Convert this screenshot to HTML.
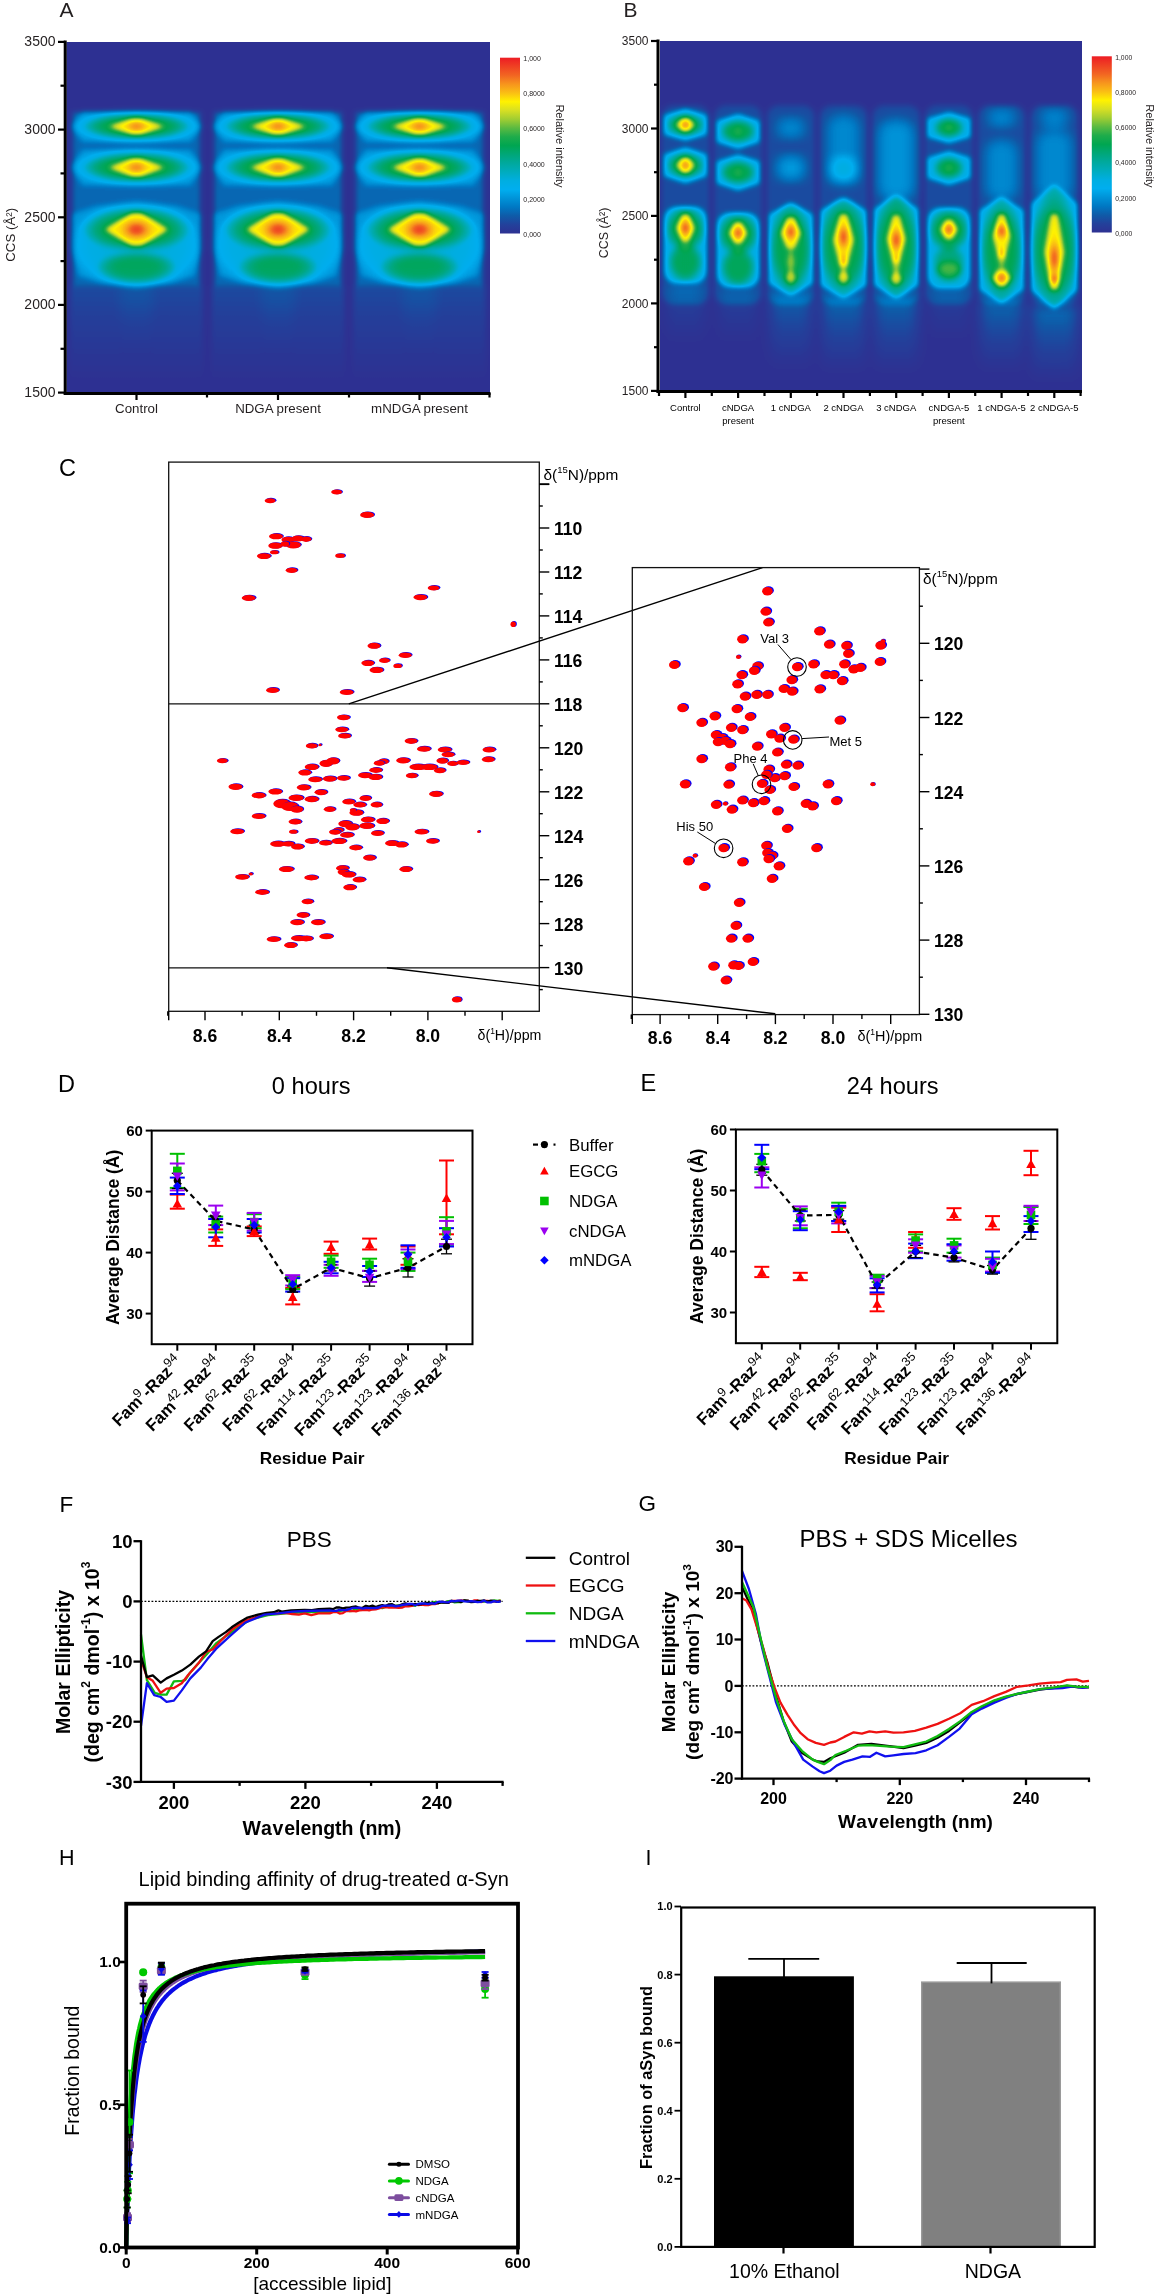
<!DOCTYPE html>
<html><head><meta charset="utf-8"><title>Figure</title>
<style>html,body{margin:0;padding:0;background:#fff;width:1155px;height:2296px;overflow:hidden}svg{display:block;font-family:"Liberation Sans",sans-serif;will-change:transform}</style>
</head><body>
<svg width="1155" height="2296" viewBox="0 0 1155 2296">
<defs><filter id="cmap" x="0" y="0" width="1" height="1" color-interpolation-filters="sRGB"><feComponentTransfer><feFuncR type="table" tableValues="0.180 0.137 0.059 0.000 0.000 0.000 0.000 0.000 0.000 0.000 0.000 0.118 0.353 0.627 0.843 1.000 0.980 0.969 0.949 0.937 0.929"/><feFuncG type="table" tableValues="0.192 0.255 0.357 0.471 0.576 0.682 0.682 0.675 0.663 0.655 0.651 0.675 0.729 0.804 0.875 0.949 0.745 0.580 0.396 0.255 0.110"/><feFuncB type="table" tableValues="0.573 0.608 0.659 0.765 0.847 0.937 0.882 0.745 0.616 0.471 0.318 0.294 0.255 0.196 0.137 0.000 0.078 0.114 0.133 0.137 0.141"/></feComponentTransfer></filter><radialGradient id="gp"><stop offset="0.00" stop-color="#fff" stop-opacity="1.000"/><stop offset="0.10" stop-color="#fff" stop-opacity="0.956"/><stop offset="0.20" stop-color="#fff" stop-opacity="0.835"/><stop offset="0.30" stop-color="#fff" stop-opacity="0.667"/><stop offset="0.40" stop-color="#fff" stop-opacity="0.487"/><stop offset="0.50" stop-color="#fff" stop-opacity="0.325"/><stop offset="0.60" stop-color="#fff" stop-opacity="0.198"/><stop offset="0.70" stop-color="#fff" stop-opacity="0.110"/><stop offset="0.80" stop-color="#fff" stop-opacity="0.056"/><stop offset="0.90" stop-color="#fff" stop-opacity="0.026"/><stop offset="1.00" stop-color="#fff" stop-opacity="0.000"/></radialGradient><radialGradient id="gb"><stop offset="0.00" stop-color="#fff" stop-opacity="1.000"/><stop offset="0.50" stop-color="#fff" stop-opacity="0.970"/><stop offset="0.70" stop-color="#fff" stop-opacity="0.880"/><stop offset="0.80" stop-color="#fff" stop-opacity="0.720"/><stop offset="0.90" stop-color="#fff" stop-opacity="0.400"/><stop offset="0.96" stop-color="#fff" stop-opacity="0.120"/><stop offset="1.00" stop-color="#fff" stop-opacity="0.000"/></radialGradient><radialGradient id="gc"><stop offset="0.00" stop-color="#fff" stop-opacity="1.000"/><stop offset="0.20" stop-color="#fff" stop-opacity="0.930"/><stop offset="0.47" stop-color="#fff" stop-opacity="0.750"/><stop offset="0.60" stop-color="#fff" stop-opacity="0.600"/><stop offset="0.74" stop-color="#fff" stop-opacity="0.333"/><stop offset="0.87" stop-color="#fff" stop-opacity="0.130"/><stop offset="1.00" stop-color="#fff" stop-opacity="0.000"/></radialGradient><radialGradient id="gg"><stop offset="0.00" stop-color="#fff" stop-opacity="1.000"/><stop offset="0.50" stop-color="#fff" stop-opacity="1.000"/><stop offset="0.70" stop-color="#fff" stop-opacity="0.800"/><stop offset="0.85" stop-color="#fff" stop-opacity="0.450"/><stop offset="1.00" stop-color="#fff" stop-opacity="0.000"/></radialGradient><filter id="bl2" x="-0.1" y="-0.1" width="1.2" height="1.2" color-interpolation-filters="sRGB"><feGaussianBlur stdDeviation="2.5"/></filter><filter id="bl5" x="-0.2" y="-0.2" width="1.4" height="1.4" color-interpolation-filters="sRGB"><feGaussianBlur stdDeviation="6"/></filter><linearGradient id="cbar" x1="0" y1="0" x2="0" y2="1"><stop offset="0.00" stop-color="rgb(237,28,36)"/><stop offset="0.05" stop-color="rgb(239,65,35)"/><stop offset="0.10" stop-color="rgb(242,101,34)"/><stop offset="0.15" stop-color="rgb(247,148,29)"/><stop offset="0.20" stop-color="rgb(250,190,20)"/><stop offset="0.25" stop-color="rgb(255,242,0)"/><stop offset="0.30" stop-color="rgb(215,223,35)"/><stop offset="0.35" stop-color="rgb(160,205,50)"/><stop offset="0.40" stop-color="rgb(90,186,65)"/><stop offset="0.45" stop-color="rgb(30,172,75)"/><stop offset="0.50" stop-color="rgb(0,166,81)"/><stop offset="0.55" stop-color="rgb(0,167,120)"/><stop offset="0.60" stop-color="rgb(0,169,157)"/><stop offset="0.65" stop-color="rgb(0,172,190)"/><stop offset="0.70" stop-color="rgb(0,174,225)"/><stop offset="0.75" stop-color="rgb(0,174,239)"/><stop offset="0.80" stop-color="rgb(0,147,216)"/><stop offset="0.85" stop-color="rgb(0,120,195)"/><stop offset="0.90" stop-color="rgb(15,91,168)"/><stop offset="0.95" stop-color="rgb(35,65,155)"/><stop offset="1.00" stop-color="rgb(46,49,146)"/></linearGradient><linearGradient id="vf" x1="0" y1="0" x2="0" y2="1"><stop offset="0" stop-color="#fff" stop-opacity="1"/><stop offset="0.4" stop-color="#fff" stop-opacity="0.55"/><stop offset="1" stop-color="#fff" stop-opacity="0"/></linearGradient><linearGradient id="hz" x1="0" y1="0" x2="0" y2="1"><stop offset="0" stop-color="#fff" stop-opacity="0"/><stop offset="0.5" stop-color="#fff" stop-opacity="1"/><stop offset="1" stop-color="#fff" stop-opacity="0"/></linearGradient></defs>
<g stroke="none">
</g>
<g filter="url(#cmap)"><rect x="66.5" y="42" width="423.5" height="350.6" fill="#000"/><g filter="url(#bl2)"><polygon points="72.5,112 200.5,112 200.5,286 72.5,286" fill="#fff" opacity="0.12"/><rect x="70.5" y="286" width="132" height="95" fill="url(#vf)" opacity="0.07"/><g filter="url(#bl5)"><rect x="118.5" y="285" width="36" height="70" fill="url(#vf)" opacity="0.035"/></g><polygon points="70.5,126.4 82.5,110.9 190.5,110.9 202.5,126.4 190.5,141.9 82.5,141.9" fill="#fff" opacity="0.10"/><ellipse cx="136.5" cy="126.4" rx="68" ry="18.5" fill="url(#gg)" opacity="0.12"/><ellipse cx="136.5" cy="126.4" rx="56" ry="13.5" fill="url(#gg)" opacity="0.30"/><polygon points="108.5,126.4 132.3,117.9 140.7,117.9 164.5,126.4 140.7,134.9 132.3,134.9" fill="#fff" opacity="0.50"/><ellipse cx="136.5" cy="126.4" rx="16" ry="6.5" fill="url(#gp)" opacity="0.62"/><polygon points="70.5,167.4 82.5,149.4 190.5,149.4 202.5,167.4 190.5,185.4 82.5,185.4" fill="#fff" opacity="0.10"/><ellipse cx="136.5" cy="167.4" rx="68" ry="21" fill="url(#gg)" opacity="0.12"/><ellipse cx="136.5" cy="167.4" rx="56" ry="15.5" fill="url(#gg)" opacity="0.30"/><polygon points="108.5,167.4 132.3,157.9 140.7,157.9 164.5,167.4 140.7,176.9 132.3,176.9" fill="#fff" opacity="0.50"/><ellipse cx="136.5" cy="167.4" rx="16" ry="7" fill="url(#gp)" opacity="0.62"/><polygon points="136.5,202 176.5,206 201.5,214 201.5,250 194.5,276 171.5,283 136.5,288 101.5,283 78.5,276 71.5,250 71.5,214 96.5,206" fill="#fff" opacity="0.10"/><ellipse cx="136.5" cy="245" rx="68" ry="46" fill="url(#gg)" opacity="0.12"/><ellipse cx="136.5" cy="229" rx="57" ry="23" fill="url(#gg)" opacity="0.30"/><ellipse cx="136.5" cy="268" rx="42" ry="17" fill="url(#gg)" opacity="0.26"/><polygon points="104.5,229.5 131.7,212.5 141.3,212.5 168.5,229.5 141.3,246.5 131.7,246.5" fill="#fff" opacity="0.50"/><ellipse cx="136.5" cy="229.5" rx="22" ry="14" fill="url(#gp)" opacity="0.90"/><polygon points="214,112 342,112 342,286 214,286" fill="#fff" opacity="0.12"/><rect x="212" y="286" width="132" height="95" fill="url(#vf)" opacity="0.07"/><g filter="url(#bl5)"><rect x="260" y="285" width="36" height="70" fill="url(#vf)" opacity="0.035"/></g><polygon points="212,126.4 224,110.9 332,110.9 344,126.4 332,141.9 224,141.9" fill="#fff" opacity="0.10"/><ellipse cx="278" cy="126.4" rx="68" ry="18.5" fill="url(#gg)" opacity="0.12"/><ellipse cx="278" cy="126.4" rx="56" ry="13.5" fill="url(#gg)" opacity="0.30"/><polygon points="250,126.4 273.8,117.9 282.2,117.9 306,126.4 282.2,134.9 273.8,134.9" fill="#fff" opacity="0.50"/><ellipse cx="278" cy="126.4" rx="16" ry="6.5" fill="url(#gp)" opacity="0.62"/><polygon points="212,167.4 224,149.4 332,149.4 344,167.4 332,185.4 224,185.4" fill="#fff" opacity="0.10"/><ellipse cx="278" cy="167.4" rx="68" ry="21" fill="url(#gg)" opacity="0.12"/><ellipse cx="278" cy="167.4" rx="56" ry="15.5" fill="url(#gg)" opacity="0.30"/><polygon points="250,167.4 273.8,157.9 282.2,157.9 306,167.4 282.2,176.9 273.8,176.9" fill="#fff" opacity="0.50"/><ellipse cx="278" cy="167.4" rx="16" ry="7" fill="url(#gp)" opacity="0.62"/><polygon points="278,202 318,206 343,214 343,250 336,276 313,283 278,288 243,283 220,276 213,250 213,214 238,206" fill="#fff" opacity="0.10"/><ellipse cx="278" cy="245" rx="68" ry="46" fill="url(#gg)" opacity="0.12"/><ellipse cx="278" cy="229" rx="57" ry="23" fill="url(#gg)" opacity="0.30"/><ellipse cx="278" cy="268" rx="42" ry="17" fill="url(#gg)" opacity="0.26"/><polygon points="246,229.5 273.2,212.5 282.8,212.5 310,229.5 282.8,246.5 273.2,246.5" fill="#fff" opacity="0.50"/><ellipse cx="278" cy="229.5" rx="22" ry="14" fill="url(#gp)" opacity="0.90"/><polygon points="355.5,112 483.5,112 483.5,286 355.5,286" fill="#fff" opacity="0.12"/><rect x="353.5" y="286" width="132" height="95" fill="url(#vf)" opacity="0.07"/><g filter="url(#bl5)"><rect x="401.5" y="285" width="36" height="70" fill="url(#vf)" opacity="0.035"/></g><polygon points="353.5,126.4 365.5,110.9 473.5,110.9 485.5,126.4 473.5,141.9 365.5,141.9" fill="#fff" opacity="0.10"/><ellipse cx="419.5" cy="126.4" rx="68" ry="18.5" fill="url(#gg)" opacity="0.12"/><ellipse cx="419.5" cy="126.4" rx="56" ry="13.5" fill="url(#gg)" opacity="0.30"/><polygon points="391.5,126.4 415.3,117.9 423.7,117.9 447.5,126.4 423.7,134.9 415.3,134.9" fill="#fff" opacity="0.50"/><ellipse cx="419.5" cy="126.4" rx="16" ry="6.5" fill="url(#gp)" opacity="0.62"/><polygon points="353.5,167.4 365.5,149.4 473.5,149.4 485.5,167.4 473.5,185.4 365.5,185.4" fill="#fff" opacity="0.10"/><ellipse cx="419.5" cy="167.4" rx="68" ry="21" fill="url(#gg)" opacity="0.12"/><ellipse cx="419.5" cy="167.4" rx="56" ry="15.5" fill="url(#gg)" opacity="0.30"/><polygon points="391.5,167.4 415.3,157.9 423.7,157.9 447.5,167.4 423.7,176.9 415.3,176.9" fill="#fff" opacity="0.50"/><ellipse cx="419.5" cy="167.4" rx="16" ry="7" fill="url(#gp)" opacity="0.62"/><polygon points="419.5,202 459.5,206 484.5,214 484.5,250 477.5,276 454.5,283 419.5,288 384.5,283 361.5,276 354.5,250 354.5,214 379.5,206" fill="#fff" opacity="0.10"/><ellipse cx="419.5" cy="245" rx="68" ry="46" fill="url(#gg)" opacity="0.12"/><ellipse cx="419.5" cy="229" rx="57" ry="23" fill="url(#gg)" opacity="0.30"/><ellipse cx="419.5" cy="268" rx="42" ry="17" fill="url(#gg)" opacity="0.26"/><polygon points="387.5,229.5 414.7,212.5 424.3,212.5 451.5,229.5 424.3,246.5 414.7,246.5" fill="#fff" opacity="0.50"/><ellipse cx="419.5" cy="229.5" rx="22" ry="14" fill="url(#gp)" opacity="0.90"/></g></g><line x1="65.2" y1="40.5" x2="65.2" y2="394.5" stroke-width="3" stroke="#000"/><line x1="63.7" y1="393.5" x2="490.5" y2="393.5" stroke-width="3" stroke="#000"/><line x1="58" y1="392.6" x2="65" y2="392.6" stroke-width="2.2" stroke="#000"/><text x="55.5" y="397.1" font-size="14" text-anchor="end" fill="#231f20">1500</text><line x1="60.5" y1="348.8" x2="65" y2="348.8" stroke-width="2.2" stroke="#000"/><line x1="58" y1="304.9" x2="65" y2="304.9" stroke-width="2.2" stroke="#000"/><text x="55.5" y="309.4" font-size="14" text-anchor="end" fill="#231f20">2000</text><line x1="60.5" y1="261.1" x2="65" y2="261.1" stroke-width="2.2" stroke="#000"/><line x1="58" y1="217.3" x2="65" y2="217.3" stroke-width="2.2" stroke="#000"/><text x="55.5" y="221.8" font-size="14" text-anchor="end" fill="#231f20">2500</text><line x1="60.5" y1="173.4" x2="65" y2="173.4" stroke-width="2.2" stroke="#000"/><line x1="58" y1="129.6" x2="65" y2="129.6" stroke-width="2.2" stroke="#000"/><text x="55.5" y="134.1" font-size="14" text-anchor="end" fill="#231f20">3000</text><line x1="60.5" y1="85.7" x2="65" y2="85.7" stroke-width="2.2" stroke="#000"/><line x1="58" y1="41.9" x2="65" y2="41.9" stroke-width="2.2" stroke="#000"/><text x="55.5" y="46.4" font-size="14" text-anchor="end" fill="#231f20">3500</text><line x1="136.5" y1="393" x2="136.5" y2="400" stroke-width="2.2" stroke="#000"/><line x1="278" y1="393" x2="278" y2="400" stroke-width="2.2" stroke="#000"/><line x1="419.5" y1="393" x2="419.5" y2="400" stroke-width="2.2" stroke="#000"/><line x1="207" y1="393" x2="207" y2="397.5" stroke-width="2.2" stroke="#000"/><line x1="349" y1="393" x2="349" y2="397.5" stroke-width="2.2" stroke="#000"/><line x1="489.5" y1="393" x2="489.5" y2="397.5" stroke-width="2.2" stroke="#000"/><text x="136.5" y="413.3" font-size="13.3" text-anchor="middle" fill="#231f20">Control</text><text x="278" y="413.3" font-size="13.3" text-anchor="middle" fill="#231f20">NDGA present</text><text x="419.5" y="413.3" font-size="13.3" text-anchor="middle" fill="#231f20">mNDGA present</text><text transform="translate(14.5,234.8) rotate(-90)" font-size="13.3" text-anchor="middle" fill="#231f20">CCS (Å²)</text><text x="59.5" y="17.2" font-size="21" fill="#231f20">A</text><rect x="500" y="57.7" width="20" height="175.8" fill="url(#cbar)"/><text x="523.3" y="61.1" font-size="7" fill="#231f20">1,000</text><text x="523.3" y="95.7" font-size="7" fill="#231f20">0,8000</text><text x="523.3" y="131.4" font-size="7" fill="#231f20">0,6000</text><text x="523.3" y="166.6" font-size="7" fill="#231f20">0,4000</text><text x="523.3" y="201.8" font-size="7" fill="#231f20">0,2000</text><text x="523.3" y="236.8" font-size="7" fill="#231f20">0,000</text><text transform="translate(556,146) rotate(90)" font-size="11" text-anchor="middle" fill="#231f20">Relative intensity</text><g filter="url(#cmap)"><rect x="660" y="41" width="422" height="349.9" fill="#000"/><g filter="url(#bl2)"><rect x="661.4" y="105" width="48" height="200" rx="12" fill="#fff" opacity="0.07"/><rect x="714.1" y="105" width="48" height="200" rx="12" fill="#fff" opacity="0.07"/><rect x="766.8" y="105" width="48" height="200" rx="12" fill="#fff" opacity="0.07"/><rect x="819.5" y="105" width="48" height="200" rx="12" fill="#fff" opacity="0.07"/><rect x="872.2" y="105" width="48" height="200" rx="12" fill="#fff" opacity="0.07"/><rect x="924.9" y="105" width="48" height="200" rx="12" fill="#fff" opacity="0.07"/><rect x="977.6" y="105" width="48" height="200" rx="12" fill="#fff" opacity="0.07"/><rect x="1030.3" y="105" width="48" height="200" rx="12" fill="#fff" opacity="0.07"/><polygon points="685.4,108.8 706.9,115.2 706.9,134.4 685.4,140.8 663.9,134.4 663.9,115.2" fill="#fff" opacity="0.24"/><ellipse cx="685.4" cy="124.8" rx="19.6" ry="11.8" fill="url(#gg)" opacity="0.30"/><polygon points="675.9,124.8 682.1,117.8 688.7,117.8 694.9,124.8 688.7,131.8 682.1,131.8" fill="#fff" opacity="0.50"/><ellipse cx="685.4" cy="124.8" rx="5" ry="7" fill="url(#gp)" opacity="0.80"/><polygon points="685.4,147.3 706.9,154.5 706.9,176.1 685.4,183.3 663.9,176.1 663.9,154.5" fill="#fff" opacity="0.24"/><ellipse cx="685.4" cy="165.3" rx="19.6" ry="13.5" fill="url(#gg)" opacity="0.30"/><polygon points="675.9,165.3 682.1,157.3 688.7,157.3 694.9,165.3 688.7,173.3 682.1,173.3" fill="#fff" opacity="0.50"/><ellipse cx="685.4" cy="165.3" rx="5" ry="7" fill="url(#gp)" opacity="0.80"/><rect x="664.4" y="207" width="42" height="76" rx="12" fill="#fff" opacity="0.24"/><ellipse cx="685.4" cy="229" rx="21" ry="23.4" fill="url(#gg)" opacity="0.30"/><ellipse cx="685.4" cy="262" rx="18.2" ry="20.8" fill="url(#gg)" opacity="0.28"/><polygon points="675.9,228 682.1,214 688.7,214 694.9,228 688.7,242 682.1,242" fill="#fff" opacity="0.50"/><ellipse cx="685.4" cy="228" rx="7" ry="13" fill="url(#gp)" opacity="0.92"/><g filter="url(#bl5)"><rect x="667.4" y="282" width="36" height="60" fill="url(#vf)" opacity="0.07"/></g><polygon points="738.1,113.9 759.6,120.9 759.6,141.9 738.1,148.9 716.6,141.9 716.6,120.9" fill="#fff" opacity="0.24"/><ellipse cx="738.1" cy="131.4" rx="18.2" ry="12.1" fill="url(#gg)" opacity="0.30"/><ellipse cx="738.1" cy="131.4" rx="3" ry="6" fill="url(#gp)" opacity="0.30"/><polygon points="738.1,154.4 759.6,161.6 759.6,183.2 738.1,190.4 716.6,183.2 716.6,161.6" fill="#fff" opacity="0.24"/><ellipse cx="738.1" cy="172.4" rx="18.2" ry="12.5" fill="url(#gg)" opacity="0.30"/><ellipse cx="738.1" cy="172.4" rx="3" ry="6" fill="url(#gp)" opacity="0.30"/><rect x="717.1" y="213" width="42" height="74" rx="12" fill="#fff" opacity="0.24"/><ellipse cx="738.1" cy="234" rx="21" ry="22.1" fill="url(#gg)" opacity="0.30"/><ellipse cx="738.1" cy="267" rx="18.2" ry="20.8" fill="url(#gg)" opacity="0.28"/><polygon points="728.6,233 734.8,222 741.4,222 747.6,233 741.4,244 734.8,244" fill="#fff" opacity="0.50"/><ellipse cx="738.1" cy="233" rx="7" ry="10" fill="url(#gp)" opacity="0.92"/><g filter="url(#bl5)"><rect x="720.1" y="287" width="36" height="55" fill="url(#vf)" opacity="0.06"/></g><g filter="url(#bl5)"><rect x="776.8" y="118" width="28" height="20" rx="7" fill="#fff" opacity="0.12"/></g><g filter="url(#bl5)"><rect x="776.8" y="156" width="28" height="24" rx="8.4" fill="#fff" opacity="0.16"/></g><polygon points="790.8,203 812.8,214.5 812.8,283.5 790.8,295 768.8,283.5 768.8,214.5" fill="#fff" opacity="0.24"/><ellipse cx="790.8" cy="248" rx="22.4" ry="46.8" fill="url(#gg)" opacity="0.30"/><polygon points="780.3,233 787.1,217 794.5,217 801.3,233 794.5,249 787.1,249" fill="#fff" opacity="0.50"/><ellipse cx="790.8" cy="232" rx="7" ry="13" fill="url(#gp)" opacity="0.92"/><polygon points="786.8,262 789.4,250 792.2,250 794.8,262 792.2,274 789.4,274" fill="#fff" opacity="0.30"/><polygon points="784.8,278 788.7,272 792.9,272 796.8,278 792.9,284 788.7,284" fill="#fff" opacity="0.40"/><g filter="url(#bl5)"><rect x="770.8" y="292" width="40" height="75" fill="url(#vf)" opacity="0.12"/></g><g filter="url(#bl5)"><rect x="827.5" y="115" width="32" height="70" rx="11.2" fill="#fff" opacity="0.12"/></g><g filter="url(#bl5)"><rect x="830.5" y="158" width="26" height="22" rx="7.7" fill="#fff" opacity="0.16"/></g><polygon points="843.5,198 866.5,210.5 866.5,285.5 843.5,298 820.5,285.5 820.5,210.5" fill="#fff" opacity="0.24"/><ellipse cx="843.5" cy="246" rx="25.2" ry="50.7" fill="url(#gg)" opacity="0.30"/><polygon points="833,240 839.8,214 847.2,214 854,240 847.2,266 839.8,266" fill="#fff" opacity="0.50"/><ellipse cx="843.5" cy="237" rx="7" ry="20" fill="url(#gp)" opacity="0.93"/><polygon points="840,265 842.3,253 844.7,253 847,265 844.7,277 842.3,277" fill="#fff" opacity="0.35"/><polygon points="837.5,278 841.4,272 845.6,272 849.5,278 845.6,284 841.4,284" fill="#fff" opacity="0.45"/><g filter="url(#bl5)"><rect x="822.5" y="296" width="42" height="75" fill="url(#vf)" opacity="0.13"/></g><g filter="url(#bl5)"><rect x="878.2" y="120" width="36" height="80" rx="12.6" fill="#fff" opacity="0.14"/></g><polygon points="896.2,196 918.2,208.8 918.2,285.2 896.2,298 874.2,285.2 874.2,208.8" fill="#fff" opacity="0.24"/><ellipse cx="896.2" cy="246" rx="23.8" ry="53.3" fill="url(#gg)" opacity="0.30"/><polygon points="886.7,239 892.9,215 899.5,215 905.7,239 899.5,263 892.9,263" fill="#fff" opacity="0.50"/><ellipse cx="896.2" cy="240" rx="7" ry="19" fill="url(#gp)" opacity="0.93"/><polygon points="892.7,266 895,254 897.4,254 899.7,266 897.4,278 895,278" fill="#fff" opacity="0.35"/><polygon points="890.2,279 894.1,273 898.3,273 902.2,279 898.3,285 894.1,285" fill="#fff" opacity="0.45"/><g filter="url(#bl5)"><rect x="875.2" y="296" width="42" height="75" fill="url(#vf)" opacity="0.13"/></g><polygon points="948.9,112.2 970.4,118.4 970.4,137 948.9,143.2 927.4,137 927.4,118.4" fill="#fff" opacity="0.24"/><ellipse cx="948.9" cy="127.7" rx="15.4" ry="10.5" fill="url(#gg)" opacity="0.30"/><ellipse cx="948.9" cy="127.7" rx="3" ry="5" fill="url(#gp)" opacity="0.30"/><polygon points="948.9,150.9 970.4,157.7 970.4,178.1 948.9,184.9 927.4,178.1 927.4,157.7" fill="#fff" opacity="0.24"/><ellipse cx="948.9" cy="167.9" rx="15.4" ry="11.7" fill="url(#gg)" opacity="0.30"/><ellipse cx="948.9" cy="167.9" rx="3" ry="5" fill="url(#gp)" opacity="0.30"/><rect x="927.9" y="208" width="42" height="80" rx="12" fill="#fff" opacity="0.24"/><ellipse cx="948.9" cy="230" rx="21" ry="22.1" fill="url(#gg)" opacity="0.30"/><ellipse cx="948.9" cy="271" rx="15.4" ry="11.7" fill="url(#gg)" opacity="0.25"/><polygon points="939.9,229.4 945.8,219.4 952,219.4 957.9,229.4 952,239.4 945.8,239.4" fill="#fff" opacity="0.50"/><ellipse cx="948.9" cy="229.4" rx="7" ry="9" fill="url(#gp)" opacity="0.90"/><ellipse cx="948.9" cy="262" rx="16.8" ry="18.2" fill="url(#gg)" opacity="0.22"/><g filter="url(#bl5)"><rect x="930.9" y="284" width="36" height="55" fill="url(#vf)" opacity="0.06"/></g><g filter="url(#bl5)"><rect x="987.6" y="108.7" width="28" height="18" rx="6.3" fill="#fff" opacity="0.12"/></g><g filter="url(#bl5)"><rect x="985.6" y="140" width="32" height="60" rx="11.2" fill="#fff" opacity="0.12"/></g><polygon points="1001.6,197 1023.6,210.2 1023.6,289.8 1001.6,303 979.6,289.8 979.6,210.2" fill="#fff" opacity="0.24"/><ellipse cx="1001.6" cy="250" rx="22.4" ry="52" fill="url(#gg)" opacity="0.30"/><polygon points="992.6,236 998.5,214 1004.8,214 1010.6,236 1004.8,258 998.5,258" fill="#fff" opacity="0.50"/><ellipse cx="1001.6" cy="231" rx="7" ry="12" fill="url(#gp)" opacity="0.92"/><polygon points="997.6,258 1000.2,248 1003,248 1005.6,258 1003,268 1000.2,268" fill="#fff" opacity="0.35"/><polygon points="991.6,278 998.1,269 1005.1,269 1011.6,278 1005.1,287 998.1,287" fill="#fff" opacity="0.50"/><ellipse cx="1001.6" cy="278" rx="7" ry="8" fill="url(#gp)" opacity="0.88"/><g filter="url(#bl5)"><rect x="980.6" y="300" width="42" height="70" fill="url(#vf)" opacity="0.13"/></g><g filter="url(#bl5)"><rect x="1040.3" y="108.7" width="28" height="18" rx="6.3" fill="#fff" opacity="0.12"/></g><g filter="url(#bl5)"><rect x="1036.3" y="130" width="36" height="70" rx="12.6" fill="#fff" opacity="0.12"/></g><polygon points="1054.3,185 1077.3,203.6 1077.3,290.4 1054.3,309 1031.3,290.4 1031.3,203.6" fill="#fff" opacity="0.24"/><ellipse cx="1054.3" cy="250" rx="25.2" ry="58.5" fill="url(#gg)" opacity="0.30"/><polygon points="1044.3,252 1050.8,214 1057.8,214 1064.3,252 1057.8,290 1050.8,290" fill="#fff" opacity="0.50"/><ellipse cx="1054.3" cy="258" rx="7" ry="28" fill="url(#gp)" opacity="0.90"/><ellipse cx="1054.3" cy="279" rx="7" ry="9" fill="url(#gp)" opacity="0.88"/><g filter="url(#bl5)"><rect x="1032.3" y="305" width="44" height="75" fill="url(#vf)" opacity="0.14"/></g></g></g><line x1="658" y1="39.5" x2="658" y2="392.5" stroke-width="3" stroke="#000"/><line x1="656.5" y1="391.5" x2="1082" y2="391.5" stroke-width="3" stroke="#000"/><line x1="651" y1="390.9" x2="658" y2="390.9" stroke-width="2.2" stroke="#000"/><text x="648.5" y="395.2" font-size="12" text-anchor="end" fill="#231f20">1500</text><line x1="654" y1="347.2" x2="658" y2="347.2" stroke-width="2.2" stroke="#000"/><line x1="651" y1="303.4" x2="658" y2="303.4" stroke-width="2.2" stroke="#000"/><text x="648.5" y="307.7" font-size="12" text-anchor="end" fill="#231f20">2000</text><line x1="654" y1="259.7" x2="658" y2="259.7" stroke-width="2.2" stroke="#000"/><line x1="651" y1="215.9" x2="658" y2="215.9" stroke-width="2.2" stroke="#000"/><text x="648.5" y="220.2" font-size="12" text-anchor="end" fill="#231f20">2500</text><line x1="654" y1="172.2" x2="658" y2="172.2" stroke-width="2.2" stroke="#000"/><line x1="651" y1="128.5" x2="658" y2="128.5" stroke-width="2.2" stroke="#000"/><text x="648.5" y="132.8" font-size="12" text-anchor="end" fill="#231f20">3000</text><line x1="654" y1="84.7" x2="658" y2="84.7" stroke-width="2.2" stroke="#000"/><line x1="651" y1="41" x2="658" y2="41" stroke-width="2.2" stroke="#000"/><text x="648.5" y="45.3" font-size="12" text-anchor="end" fill="#231f20">3500</text><line x1="685.4" y1="391" x2="685.4" y2="398" stroke-width="2.2" stroke="#000"/><line x1="711.8" y1="391" x2="711.8" y2="396" stroke-width="2.2" stroke="#000"/><line x1="738.1" y1="391" x2="738.1" y2="398" stroke-width="2.2" stroke="#000"/><line x1="764.5" y1="391" x2="764.5" y2="396" stroke-width="2.2" stroke="#000"/><line x1="790.8" y1="391" x2="790.8" y2="398" stroke-width="2.2" stroke="#000"/><line x1="817.1" y1="391" x2="817.1" y2="396" stroke-width="2.2" stroke="#000"/><line x1="843.5" y1="391" x2="843.5" y2="398" stroke-width="2.2" stroke="#000"/><line x1="869.9" y1="391" x2="869.9" y2="396" stroke-width="2.2" stroke="#000"/><line x1="896.2" y1="391" x2="896.2" y2="398" stroke-width="2.2" stroke="#000"/><line x1="922.6" y1="391" x2="922.6" y2="396" stroke-width="2.2" stroke="#000"/><line x1="948.9" y1="391" x2="948.9" y2="398" stroke-width="2.2" stroke="#000"/><line x1="975.2" y1="391" x2="975.2" y2="396" stroke-width="2.2" stroke="#000"/><line x1="1001.6" y1="391" x2="1001.6" y2="398" stroke-width="2.2" stroke="#000"/><line x1="1028" y1="391" x2="1028" y2="396" stroke-width="2.2" stroke="#000"/><line x1="1054.3" y1="391" x2="1054.3" y2="398" stroke-width="2.2" stroke="#000"/><line x1="1080.6" y1="391" x2="1080.6" y2="396" stroke-width="2.2" stroke="#000"/><line x1="659" y1="391" x2="659" y2="396" stroke-width="2.2" stroke="#000"/><text x="685.4" y="411.2" font-size="9.5" text-anchor="middle">Control</text><text x="738.1" y="411.2" font-size="9.5" text-anchor="middle">cNDGA</text><text x="738.1" y="423.7" font-size="9.5" text-anchor="middle">present</text><text x="790.8" y="411.2" font-size="9.5" text-anchor="middle">1 cNDGA</text><text x="843.5" y="411.2" font-size="9.5" text-anchor="middle">2 cNDGA</text><text x="896.2" y="411.2" font-size="9.5" text-anchor="middle">3 cNDGA</text><text x="948.9" y="411.2" font-size="9.5" text-anchor="middle">cNDGA-5</text><text x="948.9" y="423.7" font-size="9.5" text-anchor="middle">present</text><text x="1001.6" y="411.2" font-size="9.5" text-anchor="middle">1 cNDGA-5</text><text x="1054.3" y="411.2" font-size="9.5" text-anchor="middle">2 cNDGA-5</text><text transform="translate(607.8,233) rotate(-90)" font-size="12.5" text-anchor="middle" fill="#231f20">CCS (Å²)</text><text x="623.5" y="17.2" font-size="21" fill="#231f20">B</text><rect x="1091.8" y="56.3" width="20" height="176.2" fill="url(#cbar)"/><text x="1115.2" y="59.7" font-size="6.8" fill="#231f20">1,000</text><text x="1115.2" y="94.9" font-size="6.8" fill="#231f20">0,8000</text><text x="1115.2" y="130.1" font-size="6.8" fill="#231f20">0,6000</text><text x="1115.2" y="165.3" font-size="6.8" fill="#231f20">0,4000</text><text x="1115.2" y="200.5" font-size="6.8" fill="#231f20">0,2000</text><text x="1115.2" y="235.7" font-size="6.8" fill="#231f20">0,000</text><text transform="translate(1145.5,145.9) rotate(90)" font-size="11" text-anchor="middle" fill="#231f20">Relative intensity</text><text x="59" y="475.6" font-size="23.5">C</text><g><ellipse cx="337.5" cy="491.7" rx="5.4" ry="2.5" fill="#00f"/><ellipse cx="336.6" cy="492.1" rx="5.4" ry="2.5" fill="#f00"/><ellipse cx="271" cy="500.3" rx="5.4" ry="2.5" fill="#00f"/><ellipse cx="270.1" cy="500.7" rx="5.4" ry="2.5" fill="#f00"/><ellipse cx="368" cy="514.5" rx="7" ry="3.1" fill="#00f"/><ellipse cx="367.1" cy="514.9" rx="7" ry="3.1" fill="#f00"/><ellipse cx="276.9" cy="536" rx="7" ry="2.9" fill="#00f"/><ellipse cx="276" cy="536.4" rx="7" ry="2.9" fill="#f00"/><ellipse cx="288.9" cy="539.4" rx="6.5" ry="3.1" fill="#00f"/><ellipse cx="288" cy="539.8" rx="6.5" ry="3.1" fill="#f00"/><ellipse cx="298.9" cy="538.1" rx="6.5" ry="2.9" fill="#00f"/><ellipse cx="298" cy="538.5" rx="6.5" ry="2.9" fill="#f00"/><ellipse cx="306.9" cy="538.8" rx="5.4" ry="2.7" fill="#00f"/><ellipse cx="306" cy="539.2" rx="5.4" ry="2.7" fill="#f00"/><ellipse cx="276.2" cy="545.3" rx="7" ry="3.1" fill="#00f"/><ellipse cx="275.3" cy="545.7" rx="7" ry="3.1" fill="#f00"/><ellipse cx="294.2" cy="544.6" rx="7.6" ry="3.4" fill="#00f"/><ellipse cx="293.3" cy="545" rx="7.6" ry="3.4" fill="#f00"/><ellipse cx="285.9" cy="543.6" rx="4.3" ry="2.8" fill="#00f"/><ellipse cx="285" cy="544" rx="4.3" ry="2.8" fill="#f00"/><ellipse cx="275.2" cy="551.9" rx="4.3" ry="2" fill="#00f"/><ellipse cx="274.3" cy="552.3" rx="4.3" ry="2" fill="#f00"/><ellipse cx="264.8" cy="555.7" rx="7" ry="2.9" fill="#00f"/><ellipse cx="263.9" cy="556.1" rx="7" ry="2.9" fill="#f00"/><ellipse cx="341" cy="555.4" rx="4.9" ry="2.2" fill="#00f"/><ellipse cx="340.1" cy="555.8" rx="4.9" ry="2.2" fill="#f00"/><ellipse cx="292.5" cy="569.9" rx="5.9" ry="2.6" fill="#00f"/><ellipse cx="291.6" cy="570.3" rx="5.9" ry="2.6" fill="#f00"/><ellipse cx="434.5" cy="587.6" rx="5.9" ry="2.6" fill="#00f"/><ellipse cx="433.6" cy="588" rx="5.9" ry="2.6" fill="#f00"/><ellipse cx="249.6" cy="597.6" rx="7" ry="2.9" fill="#00f"/><ellipse cx="248.7" cy="598" rx="7" ry="2.9" fill="#f00"/><ellipse cx="421.3" cy="596.9" rx="7" ry="2.9" fill="#00f"/><ellipse cx="420.4" cy="597.3" rx="7" ry="2.9" fill="#f00"/><ellipse cx="514.1" cy="623.9" rx="2.7" ry="2.8" fill="#00f"/><ellipse cx="513.2" cy="624.3" rx="2.7" ry="2.8" fill="#f00"/><ellipse cx="374.9" cy="645.4" rx="6.5" ry="3" fill="#00f"/><ellipse cx="374" cy="645.8" rx="6.5" ry="3" fill="#f00"/><ellipse cx="406.1" cy="654.8" rx="6.5" ry="2.8" fill="#00f"/><ellipse cx="405.2" cy="655.2" rx="6.5" ry="2.8" fill="#f00"/><ellipse cx="385.3" cy="660" rx="5.4" ry="2.5" fill="#00f"/><ellipse cx="384.4" cy="660.4" rx="5.4" ry="2.5" fill="#f00"/><ellipse cx="368.7" cy="662.7" rx="6.5" ry="2.9" fill="#00f"/><ellipse cx="367.8" cy="663.1" rx="6.5" ry="2.9" fill="#f00"/><ellipse cx="398.5" cy="665.5" rx="4.3" ry="2.2" fill="#00f"/><ellipse cx="397.6" cy="665.9" rx="4.3" ry="2.2" fill="#f00"/><ellipse cx="377.4" cy="669.7" rx="7" ry="3" fill="#00f"/><ellipse cx="376.5" cy="670.1" rx="7" ry="3" fill="#f00"/><ellipse cx="273.5" cy="689.8" rx="6.5" ry="2.8" fill="#00f"/><ellipse cx="272.6" cy="690.2" rx="6.5" ry="2.8" fill="#f00"/><ellipse cx="347.6" cy="691.8" rx="7" ry="2.8" fill="#00f"/><ellipse cx="346.7" cy="692.2" rx="7" ry="2.8" fill="#f00"/><ellipse cx="344.4" cy="717.1" rx="6.5" ry="2.7" fill="#00f"/><ellipse cx="343.5" cy="717.5" rx="6.5" ry="2.7" fill="#f00"/><ellipse cx="342.7" cy="729.2" rx="6.5" ry="2.7" fill="#00f"/><ellipse cx="341.8" cy="729.6" rx="6.5" ry="2.7" fill="#f00"/><ellipse cx="345.5" cy="735.5" rx="6.5" ry="2.7" fill="#00f"/><ellipse cx="344.6" cy="735.9" rx="6.5" ry="2.7" fill="#f00"/><ellipse cx="312.6" cy="745.5" rx="5.9" ry="2.7" fill="#00f"/><ellipse cx="311.7" cy="745.9" rx="5.9" ry="2.7" fill="#f00"/><ellipse cx="412" cy="740.7" rx="6.5" ry="2.8" fill="#00f"/><ellipse cx="411.1" cy="741.1" rx="6.5" ry="2.8" fill="#f00"/><ellipse cx="424.8" cy="748.6" rx="7" ry="2.8" fill="#00f"/><ellipse cx="423.9" cy="749" rx="7" ry="2.8" fill="#f00"/><ellipse cx="445.6" cy="749.3" rx="7" ry="2.8" fill="#00f"/><ellipse cx="444.7" cy="749.7" rx="7" ry="2.8" fill="#f00"/><ellipse cx="449" cy="754.2" rx="6.5" ry="2.6" fill="#00f"/><ellipse cx="448.1" cy="754.6" rx="6.5" ry="2.6" fill="#f00"/><ellipse cx="489.9" cy="749.3" rx="6.5" ry="2.8" fill="#00f"/><ellipse cx="489" cy="749.7" rx="6.5" ry="2.8" fill="#f00"/><ellipse cx="223.2" cy="760.4" rx="5.4" ry="2.5" fill="#00f"/><ellipse cx="222.3" cy="760.8" rx="5.4" ry="2.5" fill="#f00"/><ellipse cx="326.9" cy="763.1" rx="6.5" ry="3.4" fill="#00f"/><ellipse cx="326" cy="763.5" rx="6.5" ry="3.4" fill="#f00"/><ellipse cx="333.9" cy="760.6" rx="6.5" ry="3.4" fill="#00f"/><ellipse cx="333" cy="761" rx="6.5" ry="3.4" fill="#f00"/><ellipse cx="384.3" cy="761.1" rx="5.4" ry="2.8" fill="#00f"/><ellipse cx="383.4" cy="761.5" rx="5.4" ry="2.8" fill="#f00"/><ellipse cx="380.1" cy="762.8" rx="5.4" ry="2.6" fill="#00f"/><ellipse cx="379.2" cy="763.2" rx="5.4" ry="2.6" fill="#f00"/><ellipse cx="404" cy="760.1" rx="7" ry="2.9" fill="#00f"/><ellipse cx="403.1" cy="760.5" rx="7" ry="2.9" fill="#f00"/><ellipse cx="443.2" cy="760.4" rx="5.9" ry="2.9" fill="#00f"/><ellipse cx="442.3" cy="760.8" rx="5.9" ry="2.9" fill="#f00"/><ellipse cx="453.5" cy="763.2" rx="5.4" ry="2.5" fill="#00f"/><ellipse cx="452.6" cy="763.6" rx="5.4" ry="2.5" fill="#f00"/><ellipse cx="463.9" cy="762.1" rx="6.5" ry="2.5" fill="#00f"/><ellipse cx="463" cy="762.5" rx="6.5" ry="2.5" fill="#f00"/><ellipse cx="489.2" cy="759" rx="6.5" ry="2.8" fill="#00f"/><ellipse cx="488.3" cy="759.4" rx="6.5" ry="2.8" fill="#f00"/><ellipse cx="312.6" cy="766.6" rx="7" ry="3.1" fill="#00f"/><ellipse cx="311.7" cy="767" rx="7" ry="3.1" fill="#f00"/><ellipse cx="305.7" cy="772.2" rx="6.5" ry="2.9" fill="#00f"/><ellipse cx="304.8" cy="772.6" rx="6.5" ry="2.9" fill="#f00"/><ellipse cx="376.7" cy="769.8" rx="6.5" ry="2.7" fill="#00f"/><ellipse cx="375.8" cy="770.2" rx="6.5" ry="2.7" fill="#f00"/><ellipse cx="418.9" cy="766.6" rx="8.6" ry="3.1" fill="#00f"/><ellipse cx="418" cy="767" rx="8.6" ry="3.1" fill="#f00"/><ellipse cx="429.9" cy="766.6" rx="8.6" ry="3.1" fill="#00f"/><ellipse cx="429" cy="767" rx="8.6" ry="3.1" fill="#f00"/><ellipse cx="440.7" cy="770.1" rx="5.9" ry="2.8" fill="#00f"/><ellipse cx="439.8" cy="770.5" rx="5.9" ry="2.8" fill="#f00"/><ellipse cx="316.1" cy="779.1" rx="7" ry="2.8" fill="#00f"/><ellipse cx="315.2" cy="779.5" rx="7" ry="2.8" fill="#f00"/><ellipse cx="330.6" cy="778.4" rx="7" ry="2.9" fill="#00f"/><ellipse cx="329.7" cy="778.8" rx="7" ry="2.9" fill="#f00"/><ellipse cx="344.4" cy="777.7" rx="6.5" ry="2.7" fill="#00f"/><ellipse cx="343.5" cy="778.1" rx="6.5" ry="2.7" fill="#f00"/><ellipse cx="365.9" cy="774.9" rx="7" ry="2.9" fill="#00f"/><ellipse cx="365" cy="775.3" rx="7" ry="2.9" fill="#f00"/><ellipse cx="376.3" cy="776.7" rx="7" ry="3" fill="#00f"/><ellipse cx="375.4" cy="777.1" rx="7" ry="3" fill="#f00"/><ellipse cx="412.7" cy="775.3" rx="5.9" ry="2.6" fill="#00f"/><ellipse cx="411.8" cy="775.7" rx="5.9" ry="2.6" fill="#f00"/><ellipse cx="236.4" cy="786.4" rx="7" ry="3.1" fill="#00f"/><ellipse cx="235.5" cy="786.8" rx="7" ry="3.1" fill="#f00"/><ellipse cx="304.6" cy="787.1" rx="7" ry="2.9" fill="#00f"/><ellipse cx="303.7" cy="787.5" rx="7" ry="2.9" fill="#f00"/><ellipse cx="259.6" cy="795" rx="7" ry="3" fill="#00f"/><ellipse cx="258.7" cy="795.4" rx="7" ry="3" fill="#f00"/><ellipse cx="276.2" cy="791.2" rx="7" ry="2.9" fill="#00f"/><ellipse cx="275.3" cy="791.6" rx="7" ry="2.9" fill="#f00"/><ellipse cx="321.9" cy="791.9" rx="6.5" ry="2.9" fill="#00f"/><ellipse cx="321" cy="792.3" rx="6.5" ry="2.9" fill="#f00"/><ellipse cx="297" cy="797.5" rx="7.6" ry="3.1" fill="#00f"/><ellipse cx="296.1" cy="797.9" rx="7.6" ry="3.1" fill="#f00"/><ellipse cx="312.6" cy="798.8" rx="7" ry="3" fill="#00f"/><ellipse cx="311.7" cy="799.2" rx="7" ry="3" fill="#f00"/><ellipse cx="282.8" cy="803.3" rx="8.6" ry="4.5" fill="#00f"/><ellipse cx="281.9" cy="803.7" rx="8.6" ry="4.5" fill="#f00"/><ellipse cx="290.8" cy="806.1" rx="8.6" ry="4.5" fill="#00f"/><ellipse cx="289.9" cy="806.5" rx="8.6" ry="4.5" fill="#f00"/><ellipse cx="297.7" cy="808.9" rx="6.5" ry="3.4" fill="#00f"/><ellipse cx="296.8" cy="809.3" rx="6.5" ry="3.4" fill="#f00"/><ellipse cx="349.6" cy="801.3" rx="6.5" ry="2.8" fill="#00f"/><ellipse cx="348.7" cy="801.7" rx="6.5" ry="2.8" fill="#f00"/><ellipse cx="366.3" cy="797.8" rx="5.9" ry="2.8" fill="#00f"/><ellipse cx="365.4" cy="798.2" rx="5.9" ry="2.8" fill="#f00"/><ellipse cx="360.7" cy="804.4" rx="6.5" ry="2.8" fill="#00f"/><ellipse cx="359.8" cy="804.8" rx="6.5" ry="2.8" fill="#f00"/><ellipse cx="377.4" cy="804.4" rx="5.9" ry="2.8" fill="#00f"/><ellipse cx="376.5" cy="804.8" rx="5.9" ry="2.8" fill="#f00"/><ellipse cx="330.6" cy="808.9" rx="5.9" ry="2.7" fill="#00f"/><ellipse cx="329.7" cy="809.3" rx="5.9" ry="2.7" fill="#f00"/><ellipse cx="436.9" cy="793.6" rx="7" ry="2.9" fill="#00f"/><ellipse cx="436" cy="794" rx="7" ry="2.9" fill="#f00"/><ellipse cx="259.6" cy="815.8" rx="7" ry="2.8" fill="#00f"/><ellipse cx="258.7" cy="816.2" rx="7" ry="2.8" fill="#f00"/><ellipse cx="357.3" cy="812.3" rx="7" ry="3.1" fill="#00f"/><ellipse cx="356.4" cy="812.7" rx="7" ry="3.1" fill="#f00"/><ellipse cx="296" cy="821.4" rx="6.5" ry="2.8" fill="#00f"/><ellipse cx="295.1" cy="821.8" rx="6.5" ry="2.8" fill="#f00"/><ellipse cx="368.7" cy="819.3" rx="7" ry="2.9" fill="#00f"/><ellipse cx="367.8" cy="819.7" rx="7" ry="2.9" fill="#f00"/><ellipse cx="383.6" cy="820.7" rx="6.5" ry="2.9" fill="#00f"/><ellipse cx="382.7" cy="821.1" rx="6.5" ry="2.9" fill="#f00"/><ellipse cx="346.2" cy="823.4" rx="7" ry="3.4" fill="#00f"/><ellipse cx="345.3" cy="823.8" rx="7" ry="3.4" fill="#f00"/><ellipse cx="353.1" cy="826.6" rx="7" ry="3.4" fill="#00f"/><ellipse cx="352.2" cy="827" rx="7" ry="3.4" fill="#f00"/><ellipse cx="367.7" cy="825.5" rx="7.6" ry="3.1" fill="#00f"/><ellipse cx="366.8" cy="825.9" rx="7.6" ry="3.1" fill="#f00"/><ellipse cx="339.3" cy="829.7" rx="5.4" ry="2.7" fill="#00f"/><ellipse cx="338.4" cy="830.1" rx="5.4" ry="2.7" fill="#f00"/><ellipse cx="335.8" cy="831.7" rx="5.9" ry="2.7" fill="#00f"/><ellipse cx="334.9" cy="832.1" rx="5.9" ry="2.7" fill="#f00"/><ellipse cx="294.2" cy="831.4" rx="4.3" ry="2" fill="#00f"/><ellipse cx="293.3" cy="831.8" rx="4.3" ry="2" fill="#f00"/><ellipse cx="238.1" cy="831.1" rx="7" ry="2.8" fill="#00f"/><ellipse cx="237.2" cy="831.5" rx="7" ry="2.8" fill="#f00"/><ellipse cx="347.9" cy="834.6" rx="7" ry="2.8" fill="#00f"/><ellipse cx="347" cy="835" rx="7" ry="2.8" fill="#f00"/><ellipse cx="378.4" cy="832.8" rx="6.5" ry="2.8" fill="#00f"/><ellipse cx="377.5" cy="833.2" rx="6.5" ry="2.8" fill="#f00"/><ellipse cx="422.4" cy="831.4" rx="7" ry="2.7" fill="#00f"/><ellipse cx="421.5" cy="831.8" rx="7" ry="2.7" fill="#f00"/><ellipse cx="479.5" cy="831.4" rx="1.6" ry="1.3" fill="#00f"/><ellipse cx="478.6" cy="831.8" rx="1.6" ry="1.3" fill="#f00"/><ellipse cx="278.6" cy="843.5" rx="7.6" ry="2.9" fill="#00f"/><ellipse cx="277.7" cy="843.9" rx="7.6" ry="2.9" fill="#f00"/><ellipse cx="289" cy="843.5" rx="6.5" ry="2.7" fill="#00f"/><ellipse cx="288.1" cy="843.9" rx="6.5" ry="2.7" fill="#f00"/><ellipse cx="298.4" cy="846.3" rx="6.5" ry="2.9" fill="#00f"/><ellipse cx="297.5" cy="846.7" rx="6.5" ry="2.9" fill="#f00"/><ellipse cx="312.6" cy="840.7" rx="7" ry="2.8" fill="#00f"/><ellipse cx="311.7" cy="841.1" rx="7" ry="2.8" fill="#f00"/><ellipse cx="326.4" cy="842.5" rx="6.5" ry="2.7" fill="#00f"/><ellipse cx="325.5" cy="842.9" rx="6.5" ry="2.7" fill="#f00"/><ellipse cx="339.9" cy="840.7" rx="7.6" ry="2.9" fill="#00f"/><ellipse cx="339" cy="841.1" rx="7.6" ry="2.9" fill="#f00"/><ellipse cx="356.6" cy="847.3" rx="6.5" ry="2.7" fill="#00f"/><ellipse cx="355.7" cy="847.7" rx="6.5" ry="2.7" fill="#f00"/><ellipse cx="392.9" cy="842.8" rx="7" ry="2.9" fill="#00f"/><ellipse cx="392" cy="843.2" rx="7" ry="2.9" fill="#f00"/><ellipse cx="402.3" cy="844.2" rx="6.5" ry="2.9" fill="#00f"/><ellipse cx="401.4" cy="844.6" rx="6.5" ry="2.9" fill="#f00"/><ellipse cx="433.4" cy="840.7" rx="6.5" ry="2.7" fill="#00f"/><ellipse cx="432.5" cy="841.1" rx="6.5" ry="2.7" fill="#f00"/><ellipse cx="370.4" cy="857.4" rx="6.5" ry="2.9" fill="#00f"/><ellipse cx="369.5" cy="857.8" rx="6.5" ry="2.9" fill="#f00"/><ellipse cx="287.3" cy="868.8" rx="7.6" ry="2.9" fill="#00f"/><ellipse cx="286.4" cy="869.2" rx="7.6" ry="2.9" fill="#f00"/><ellipse cx="343.4" cy="867.8" rx="6.5" ry="2.9" fill="#00f"/><ellipse cx="342.5" cy="868.2" rx="6.5" ry="2.9" fill="#f00"/><ellipse cx="406.8" cy="868.8" rx="6.5" ry="2.9" fill="#00f"/><ellipse cx="405.9" cy="869.2" rx="6.5" ry="2.9" fill="#f00"/><ellipse cx="344.4" cy="871.7" rx="5.9" ry="2.9" fill="#00f"/><ellipse cx="343.5" cy="872.1" rx="5.9" ry="2.9" fill="#f00"/><ellipse cx="349.6" cy="874.1" rx="7" ry="3.1" fill="#00f"/><ellipse cx="348.7" cy="874.5" rx="7" ry="3.1" fill="#f00"/><ellipse cx="360" cy="879.3" rx="6.5" ry="2.8" fill="#00f"/><ellipse cx="359.1" cy="879.7" rx="6.5" ry="2.8" fill="#f00"/><ellipse cx="243" cy="876.6" rx="7" ry="2.7" fill="#00f"/><ellipse cx="242.1" cy="877" rx="7" ry="2.7" fill="#f00"/><ellipse cx="251.6" cy="873.5" rx="2.2" ry="1.5" fill="#00f"/><ellipse cx="250.7" cy="873.9" rx="2.2" ry="1.5" fill="#f00"/><ellipse cx="312.2" cy="877.3" rx="7" ry="2.7" fill="#00f"/><ellipse cx="311.3" cy="877.7" rx="7" ry="2.7" fill="#f00"/><ellipse cx="350.7" cy="887" rx="6.5" ry="2.9" fill="#00f"/><ellipse cx="349.8" cy="887.4" rx="6.5" ry="2.9" fill="#f00"/><ellipse cx="263.1" cy="891.8" rx="7" ry="2.7" fill="#00f"/><ellipse cx="262.2" cy="892.2" rx="7" ry="2.7" fill="#f00"/><ellipse cx="308.4" cy="901.2" rx="5.9" ry="2.7" fill="#00f"/><ellipse cx="307.5" cy="901.6" rx="5.9" ry="2.7" fill="#f00"/><ellipse cx="303.9" cy="914.7" rx="6.5" ry="2.8" fill="#00f"/><ellipse cx="303" cy="915.1" rx="6.5" ry="2.8" fill="#f00"/><ellipse cx="298" cy="921.9" rx="7" ry="2.9" fill="#00f"/><ellipse cx="297.1" cy="922.3" rx="7" ry="2.9" fill="#f00"/><ellipse cx="318.8" cy="921.9" rx="7" ry="2.9" fill="#00f"/><ellipse cx="317.9" cy="922.3" rx="7" ry="2.9" fill="#f00"/><ellipse cx="274.5" cy="938.9" rx="7" ry="2.7" fill="#00f"/><ellipse cx="273.6" cy="939.3" rx="7" ry="2.7" fill="#f00"/><ellipse cx="299.4" cy="937.9" rx="7.6" ry="2.9" fill="#00f"/><ellipse cx="298.5" cy="938.3" rx="7.6" ry="2.9" fill="#f00"/><ellipse cx="307" cy="938.2" rx="7" ry="2.8" fill="#00f"/><ellipse cx="306.1" cy="938.6" rx="7" ry="2.8" fill="#f00"/><ellipse cx="327.1" cy="936.1" rx="7" ry="2.8" fill="#00f"/><ellipse cx="326.2" cy="936.5" rx="7" ry="2.8" fill="#f00"/><ellipse cx="291.5" cy="944.8" rx="6.5" ry="2.9" fill="#00f"/><ellipse cx="290.6" cy="945.2" rx="6.5" ry="2.9" fill="#f00"/><ellipse cx="457.7" cy="999.2" rx="4.9" ry="2.9" fill="#00f"/><ellipse cx="456.8" cy="999.6" rx="4.9" ry="2.9" fill="#f00"/><ellipse cx="353.9" cy="809.6" rx="3.2" ry="1.7" fill="#00f"/><ellipse cx="353" cy="810" rx="3.2" ry="1.7" fill="#f00"/><ellipse cx="320.9" cy="744.6" rx="1.6" ry="1.3" fill="#00f"/><ellipse cx="320" cy="745" rx="1.6" ry="1.3" fill="#f00"/></g><rect x="168.7" y="462.1" width="370.6" height="549.2" fill="none" stroke="#111" stroke-width="1.3"/><line x1="168.7" y1="703.9" x2="539.3" y2="703.9" stroke-width="1.3" stroke="#111"/><line x1="168.7" y1="967.8" x2="539.3" y2="967.8" stroke-width="1.3" stroke="#111"/><line x1="348.8" y1="703.9" x2="762.5" y2="567.6" stroke-width="1.4" stroke="#000"/><line x1="387" y1="967.8" x2="775.3" y2="1013.8" stroke-width="1.4" stroke="#000"/><line x1="539.3" y1="484" x2="549.3" y2="484" stroke-width="1.4" stroke="#000"/><line x1="539.3" y1="506" x2="542.8" y2="506" stroke-width="1.4" stroke="#000"/><line x1="539.3" y1="528" x2="549.3" y2="528" stroke-width="1.4" stroke="#000"/><text x="554" y="535" font-size="17.6" font-weight="bold">110</text><line x1="539.3" y1="550" x2="542.8" y2="550" stroke-width="1.4" stroke="#000"/><line x1="539.3" y1="572" x2="549.3" y2="572" stroke-width="1.4" stroke="#000"/><text x="554" y="579" font-size="17.6" font-weight="bold">112</text><line x1="539.3" y1="593.9" x2="542.8" y2="593.9" stroke-width="1.4" stroke="#000"/><line x1="539.3" y1="615.9" x2="549.3" y2="615.9" stroke-width="1.4" stroke="#000"/><text x="554" y="622.9" font-size="17.6" font-weight="bold">114</text><line x1="539.3" y1="637.9" x2="542.8" y2="637.9" stroke-width="1.4" stroke="#000"/><line x1="539.3" y1="659.9" x2="549.3" y2="659.9" stroke-width="1.4" stroke="#000"/><text x="554" y="666.9" font-size="17.6" font-weight="bold">116</text><line x1="539.3" y1="681.9" x2="542.8" y2="681.9" stroke-width="1.4" stroke="#000"/><line x1="539.3" y1="703.8" x2="549.3" y2="703.8" stroke-width="1.4" stroke="#000"/><text x="554" y="710.8" font-size="17.6" font-weight="bold">118</text><line x1="539.3" y1="725.8" x2="542.8" y2="725.8" stroke-width="1.4" stroke="#000"/><line x1="539.3" y1="747.8" x2="549.3" y2="747.8" stroke-width="1.4" stroke="#000"/><text x="554" y="754.8" font-size="17.6" font-weight="bold">120</text><line x1="539.3" y1="769.8" x2="542.8" y2="769.8" stroke-width="1.4" stroke="#000"/><line x1="539.3" y1="791.8" x2="549.3" y2="791.8" stroke-width="1.4" stroke="#000"/><text x="554" y="798.8" font-size="17.6" font-weight="bold">122</text><line x1="539.3" y1="813.7" x2="542.8" y2="813.7" stroke-width="1.4" stroke="#000"/><line x1="539.3" y1="835.7" x2="549.3" y2="835.7" stroke-width="1.4" stroke="#000"/><text x="554" y="842.7" font-size="17.6" font-weight="bold">124</text><line x1="539.3" y1="857.7" x2="542.8" y2="857.7" stroke-width="1.4" stroke="#000"/><line x1="539.3" y1="879.7" x2="549.3" y2="879.7" stroke-width="1.4" stroke="#000"/><text x="554" y="886.7" font-size="17.6" font-weight="bold">126</text><line x1="539.3" y1="901.7" x2="542.8" y2="901.7" stroke-width="1.4" stroke="#000"/><line x1="539.3" y1="923.6" x2="549.3" y2="923.6" stroke-width="1.4" stroke="#000"/><text x="554" y="930.6" font-size="17.6" font-weight="bold">128</text><line x1="539.3" y1="945.6" x2="542.8" y2="945.6" stroke-width="1.4" stroke="#000"/><line x1="539.3" y1="967.6" x2="549.3" y2="967.6" stroke-width="1.4" stroke="#000"/><text x="554" y="974.6" font-size="17.6" font-weight="bold">130</text><line x1="539.3" y1="989.6" x2="542.8" y2="989.6" stroke-width="1.4" stroke="#000"/><line x1="205" y1="1011.3" x2="205" y2="1020.3" stroke-width="1.4" stroke="#000"/><line x1="167.8" y1="1011.3" x2="167.8" y2="1015.8" stroke-width="1.4" stroke="#000"/><text x="205" y="1041.5" font-size="17.6" font-weight="bold" text-anchor="middle">8.6</text><line x1="279.3" y1="1011.3" x2="279.3" y2="1020.3" stroke-width="1.4" stroke="#000"/><line x1="242.1" y1="1011.3" x2="242.1" y2="1015.8" stroke-width="1.4" stroke="#000"/><text x="279.3" y="1041.5" font-size="17.6" font-weight="bold" text-anchor="middle">8.4</text><line x1="353.6" y1="1011.3" x2="353.6" y2="1020.3" stroke-width="1.4" stroke="#000"/><line x1="316.5" y1="1011.3" x2="316.5" y2="1015.8" stroke-width="1.4" stroke="#000"/><text x="353.6" y="1041.5" font-size="17.6" font-weight="bold" text-anchor="middle">8.2</text><line x1="427.9" y1="1011.3" x2="427.9" y2="1020.3" stroke-width="1.4" stroke="#000"/><line x1="390.7" y1="1011.3" x2="390.7" y2="1015.8" stroke-width="1.4" stroke="#000"/><text x="427.9" y="1041.5" font-size="17.6" font-weight="bold" text-anchor="middle">8.0</text><line x1="502.2" y1="1011.3" x2="502.2" y2="1020.3" stroke-width="1.4" stroke="#000"/><line x1="465" y1="1011.3" x2="465" y2="1015.8" stroke-width="1.4" stroke="#000"/><line x1="168.7" y1="1011.3" x2="168.7" y2="1020.3" stroke-width="1.4" stroke="#000"/><text x="477.5" y="1040" font-size="14.2">δ(<tspan font-size="8.5" dy="-6">1</tspan><tspan dy="6">H)/ppm</tspan></text><text x="543.5" y="479.6" font-size="15.4">δ(<tspan font-size="9.5" dy="-6.5">15</tspan><tspan dy="6.5">N)/ppm</tspan></text><line x1="539.3" y1="484.4" x2="549.3" y2="484.4" stroke-width="1.4" stroke="#000"/><ellipse cx="768.6" cy="590.4" rx="5.3" ry="4.2" fill="#00f"/><ellipse cx="767.4" cy="591.2" rx="5.3" ry="4.2" fill="#f00"/><ellipse cx="766.9" cy="610.8" rx="5.3" ry="4.2" fill="#00f"/><ellipse cx="765.7" cy="611.6" rx="5.3" ry="4.2" fill="#f00"/><ellipse cx="769.6" cy="621.6" rx="5.3" ry="4.2" fill="#00f"/><ellipse cx="768.4" cy="622.4" rx="5.3" ry="4.2" fill="#f00"/><ellipse cx="820.6" cy="630.5" rx="5.3" ry="4.2" fill="#00f"/><ellipse cx="819.4" cy="631.3" rx="5.3" ry="4.2" fill="#f00"/><ellipse cx="743.6" cy="638.4" rx="5.3" ry="4.2" fill="#00f"/><ellipse cx="742.4" cy="639.2" rx="5.3" ry="4.2" fill="#f00"/><ellipse cx="830.4" cy="643.7" rx="5.3" ry="4.2" fill="#00f"/><ellipse cx="829.2" cy="644.5" rx="5.3" ry="4.2" fill="#f00"/><ellipse cx="847.6" cy="645" rx="5.3" ry="4.2" fill="#00f"/><ellipse cx="846.4" cy="645.8" rx="5.3" ry="4.2" fill="#f00"/><ellipse cx="881.8" cy="644.7" rx="5.3" ry="4.2" fill="#00f"/><ellipse cx="880.6" cy="645.5" rx="5.3" ry="4.2" fill="#f00"/><ellipse cx="849.5" cy="652.9" rx="5.3" ry="4.2" fill="#00f"/><ellipse cx="848.3" cy="653.7" rx="5.3" ry="4.2" fill="#f00"/><ellipse cx="675.5" cy="664.1" rx="5.3" ry="4.2" fill="#00f"/><ellipse cx="674.3" cy="664.9" rx="5.3" ry="4.2" fill="#f00"/><ellipse cx="798.4" cy="666.2" rx="5.3" ry="4.2" fill="#00f"/><ellipse cx="797.2" cy="667" rx="5.3" ry="4.2" fill="#f00"/><ellipse cx="814.7" cy="663.4" rx="5.3" ry="4.2" fill="#00f"/><ellipse cx="813.5" cy="664.2" rx="5.3" ry="4.2" fill="#f00"/><ellipse cx="845.6" cy="663.4" rx="5.3" ry="4.2" fill="#00f"/><ellipse cx="844.4" cy="664.2" rx="5.3" ry="4.2" fill="#f00"/><ellipse cx="854.8" cy="668.4" rx="5.3" ry="4.2" fill="#00f"/><ellipse cx="853.6" cy="669.2" rx="5.3" ry="4.2" fill="#f00"/><ellipse cx="861.4" cy="667" rx="5.3" ry="4.2" fill="#00f"/><ellipse cx="860.2" cy="667.8" rx="5.3" ry="4.2" fill="#f00"/><ellipse cx="881.1" cy="661.1" rx="5.3" ry="4.2" fill="#00f"/><ellipse cx="879.9" cy="661.9" rx="5.3" ry="4.2" fill="#f00"/><ellipse cx="758.7" cy="665.4" rx="5.3" ry="4.2" fill="#00f"/><ellipse cx="757.5" cy="666.2" rx="5.3" ry="4.2" fill="#f00"/><ellipse cx="755.4" cy="670" rx="5.3" ry="4.2" fill="#00f"/><ellipse cx="754.2" cy="670.8" rx="5.3" ry="4.2" fill="#f00"/><ellipse cx="742.9" cy="674.3" rx="5.3" ry="4.2" fill="#00f"/><ellipse cx="741.7" cy="675.1" rx="5.3" ry="4.2" fill="#f00"/><ellipse cx="826.8" cy="674.3" rx="5.3" ry="4.2" fill="#00f"/><ellipse cx="825.6" cy="675.1" rx="5.3" ry="4.2" fill="#f00"/><ellipse cx="834.4" cy="674.3" rx="5.3" ry="4.2" fill="#00f"/><ellipse cx="833.2" cy="675.1" rx="5.3" ry="4.2" fill="#f00"/><ellipse cx="843.3" cy="680.2" rx="5.3" ry="4.2" fill="#00f"/><ellipse cx="842.1" cy="681" rx="5.3" ry="4.2" fill="#f00"/><ellipse cx="792.9" cy="679.2" rx="5.3" ry="4.2" fill="#00f"/><ellipse cx="791.7" cy="680" rx="5.3" ry="4.2" fill="#f00"/><ellipse cx="738.7" cy="683.5" rx="5.3" ry="4.2" fill="#00f"/><ellipse cx="737.5" cy="684.3" rx="5.3" ry="4.2" fill="#f00"/><ellipse cx="785" cy="688.1" rx="5.3" ry="4.2" fill="#00f"/><ellipse cx="783.8" cy="688.9" rx="5.3" ry="4.2" fill="#f00"/><ellipse cx="793.3" cy="690.7" rx="5.3" ry="4.2" fill="#00f"/><ellipse cx="792.1" cy="691.5" rx="5.3" ry="4.2" fill="#f00"/><ellipse cx="820.9" cy="688.4" rx="5.3" ry="4.2" fill="#00f"/><ellipse cx="819.7" cy="689.2" rx="5.3" ry="4.2" fill="#f00"/><ellipse cx="746.2" cy="695.7" rx="5.3" ry="4.2" fill="#00f"/><ellipse cx="745" cy="696.5" rx="5.3" ry="4.2" fill="#f00"/><ellipse cx="757.7" cy="694" rx="5.3" ry="4.2" fill="#00f"/><ellipse cx="756.5" cy="694.8" rx="5.3" ry="4.2" fill="#f00"/><ellipse cx="768.6" cy="694" rx="5.3" ry="4.2" fill="#00f"/><ellipse cx="767.4" cy="694.8" rx="5.3" ry="4.2" fill="#f00"/><ellipse cx="683.7" cy="707.2" rx="5.3" ry="4.2" fill="#00f"/><ellipse cx="682.5" cy="708" rx="5.3" ry="4.2" fill="#f00"/><ellipse cx="738" cy="708.2" rx="5.3" ry="4.2" fill="#00f"/><ellipse cx="736.8" cy="709" rx="5.3" ry="4.2" fill="#f00"/><ellipse cx="716" cy="715.4" rx="5.3" ry="4.2" fill="#00f"/><ellipse cx="714.8" cy="716.2" rx="5.3" ry="4.2" fill="#f00"/><ellipse cx="751.2" cy="716.1" rx="5.3" ry="4.2" fill="#00f"/><ellipse cx="750" cy="716.9" rx="5.3" ry="4.2" fill="#f00"/><ellipse cx="841" cy="719.7" rx="5.3" ry="4.2" fill="#00f"/><ellipse cx="839.8" cy="720.5" rx="5.3" ry="4.2" fill="#f00"/><ellipse cx="702.8" cy="722" rx="5.3" ry="4.2" fill="#00f"/><ellipse cx="701.6" cy="722.8" rx="5.3" ry="4.2" fill="#f00"/><ellipse cx="732.4" cy="726.9" rx="5.3" ry="4.2" fill="#00f"/><ellipse cx="731.2" cy="727.7" rx="5.3" ry="4.2" fill="#f00"/><ellipse cx="743.6" cy="729.2" rx="5.3" ry="4.2" fill="#00f"/><ellipse cx="742.4" cy="730" rx="5.3" ry="4.2" fill="#f00"/><ellipse cx="785.7" cy="726.9" rx="5.3" ry="4.2" fill="#00f"/><ellipse cx="784.5" cy="727.7" rx="5.3" ry="4.2" fill="#f00"/><ellipse cx="717.2" cy="734.2" rx="5.3" ry="4.2" fill="#00f"/><ellipse cx="716" cy="735" rx="5.3" ry="4.2" fill="#f00"/><ellipse cx="723.2" cy="737.2" rx="5.3" ry="4.2" fill="#00f"/><ellipse cx="722" cy="738" rx="5.3" ry="4.2" fill="#f00"/><ellipse cx="719.2" cy="741.2" rx="5.3" ry="4.2" fill="#00f"/><ellipse cx="718" cy="742" rx="5.3" ry="4.2" fill="#f00"/><ellipse cx="726.5" cy="740.1" rx="5.3" ry="4.2" fill="#00f"/><ellipse cx="725.3" cy="740.9" rx="5.3" ry="4.2" fill="#f00"/><ellipse cx="731.2" cy="743.2" rx="5.3" ry="4.2" fill="#00f"/><ellipse cx="730" cy="744" rx="5.3" ry="4.2" fill="#f00"/><ellipse cx="772.5" cy="733.5" rx="5.3" ry="4.2" fill="#00f"/><ellipse cx="771.3" cy="734.3" rx="5.3" ry="4.2" fill="#f00"/><ellipse cx="780.8" cy="737.8" rx="5.3" ry="4.2" fill="#00f"/><ellipse cx="779.6" cy="738.6" rx="5.3" ry="4.2" fill="#f00"/><ellipse cx="794.6" cy="738.7" rx="5.3" ry="4.2" fill="#00f"/><ellipse cx="793.4" cy="739.5" rx="5.3" ry="4.2" fill="#f00"/><ellipse cx="758.4" cy="745.7" rx="5.3" ry="4.2" fill="#00f"/><ellipse cx="757.2" cy="746.5" rx="5.3" ry="4.2" fill="#f00"/><ellipse cx="702.8" cy="758.2" rx="5.3" ry="4.2" fill="#00f"/><ellipse cx="701.6" cy="759" rx="5.3" ry="4.2" fill="#f00"/><ellipse cx="778.5" cy="751.6" rx="5.3" ry="4.2" fill="#00f"/><ellipse cx="777.3" cy="752.4" rx="5.3" ry="4.2" fill="#f00"/><ellipse cx="731.4" cy="766.4" rx="5.3" ry="4.2" fill="#00f"/><ellipse cx="730.2" cy="767.2" rx="5.3" ry="4.2" fill="#f00"/><ellipse cx="787.3" cy="763.8" rx="5.3" ry="4.2" fill="#00f"/><ellipse cx="786.1" cy="764.6" rx="5.3" ry="4.2" fill="#f00"/><ellipse cx="798.9" cy="764.8" rx="5.3" ry="4.2" fill="#00f"/><ellipse cx="797.7" cy="765.6" rx="5.3" ry="4.2" fill="#f00"/><ellipse cx="769.9" cy="768.7" rx="5.3" ry="4.2" fill="#00f"/><ellipse cx="768.7" cy="769.5" rx="5.3" ry="4.2" fill="#f00"/><ellipse cx="775.8" cy="777.3" rx="5.3" ry="4.2" fill="#00f"/><ellipse cx="774.6" cy="778.1" rx="5.3" ry="4.2" fill="#f00"/><ellipse cx="785.7" cy="775.3" rx="5.3" ry="4.2" fill="#00f"/><ellipse cx="784.5" cy="776.1" rx="5.3" ry="4.2" fill="#f00"/><ellipse cx="767.6" cy="774" rx="5.3" ry="4.2" fill="#00f"/><ellipse cx="766.4" cy="774.8" rx="5.3" ry="4.2" fill="#f00"/><ellipse cx="763.3" cy="782.9" rx="5.3" ry="4.2" fill="#00f"/><ellipse cx="762.1" cy="783.7" rx="5.3" ry="4.2" fill="#f00"/><ellipse cx="686.3" cy="783.5" rx="5.3" ry="4.2" fill="#00f"/><ellipse cx="685.1" cy="784.3" rx="5.3" ry="4.2" fill="#f00"/><ellipse cx="729.8" cy="783.8" rx="5.3" ry="4.2" fill="#00f"/><ellipse cx="728.6" cy="784.6" rx="5.3" ry="4.2" fill="#f00"/><ellipse cx="794.9" cy="786.1" rx="5.3" ry="4.2" fill="#00f"/><ellipse cx="793.7" cy="786.9" rx="5.3" ry="4.2" fill="#f00"/><ellipse cx="829.1" cy="783.5" rx="5.3" ry="4.2" fill="#00f"/><ellipse cx="827.9" cy="784.3" rx="5.3" ry="4.2" fill="#f00"/><ellipse cx="770.9" cy="789.1" rx="5.3" ry="4.2" fill="#00f"/><ellipse cx="769.7" cy="789.9" rx="5.3" ry="4.2" fill="#f00"/><ellipse cx="717.3" cy="803.9" rx="5.3" ry="4.2" fill="#00f"/><ellipse cx="716.1" cy="804.7" rx="5.3" ry="4.2" fill="#f00"/><ellipse cx="733.1" cy="808.8" rx="5.3" ry="4.2" fill="#00f"/><ellipse cx="731.9" cy="809.6" rx="5.3" ry="4.2" fill="#f00"/><ellipse cx="743.6" cy="799.6" rx="5.3" ry="4.2" fill="#00f"/><ellipse cx="742.4" cy="800.4" rx="5.3" ry="4.2" fill="#f00"/><ellipse cx="754.4" cy="802.2" rx="5.3" ry="4.2" fill="#00f"/><ellipse cx="753.2" cy="803" rx="5.3" ry="4.2" fill="#f00"/><ellipse cx="765" cy="800.3" rx="5.3" ry="4.2" fill="#00f"/><ellipse cx="763.8" cy="801.1" rx="5.3" ry="4.2" fill="#f00"/><ellipse cx="778.5" cy="810.5" rx="5.3" ry="4.2" fill="#00f"/><ellipse cx="777.3" cy="811.3" rx="5.3" ry="4.2" fill="#f00"/><ellipse cx="807.1" cy="802.9" rx="5.3" ry="4.2" fill="#00f"/><ellipse cx="805.9" cy="803.7" rx="5.3" ry="4.2" fill="#f00"/><ellipse cx="813.7" cy="805.5" rx="5.3" ry="4.2" fill="#00f"/><ellipse cx="812.5" cy="806.3" rx="5.3" ry="4.2" fill="#f00"/><ellipse cx="837.4" cy="800.3" rx="5.3" ry="4.2" fill="#00f"/><ellipse cx="836.2" cy="801.1" rx="5.3" ry="4.2" fill="#f00"/><ellipse cx="788.3" cy="827.9" rx="5.3" ry="4.2" fill="#00f"/><ellipse cx="787.1" cy="828.7" rx="5.3" ry="4.2" fill="#f00"/><ellipse cx="724.8" cy="847.3" rx="5.3" ry="4.2" fill="#00f"/><ellipse cx="723.6" cy="848.1" rx="5.3" ry="4.2" fill="#f00"/><ellipse cx="689.6" cy="860.5" rx="5.3" ry="4.2" fill="#00f"/><ellipse cx="688.4" cy="861.3" rx="5.3" ry="4.2" fill="#f00"/><ellipse cx="743.6" cy="861.5" rx="5.3" ry="4.2" fill="#00f"/><ellipse cx="742.4" cy="862.3" rx="5.3" ry="4.2" fill="#f00"/><ellipse cx="767.6" cy="845" rx="5.3" ry="4.2" fill="#00f"/><ellipse cx="766.4" cy="845.8" rx="5.3" ry="4.2" fill="#f00"/><ellipse cx="768.6" cy="852.2" rx="5.3" ry="4.2" fill="#00f"/><ellipse cx="767.4" cy="853" rx="5.3" ry="4.2" fill="#f00"/><ellipse cx="773.2" cy="854.9" rx="5.3" ry="4.2" fill="#00f"/><ellipse cx="772" cy="855.7" rx="5.3" ry="4.2" fill="#f00"/><ellipse cx="769.9" cy="858.2" rx="5.3" ry="4.2" fill="#00f"/><ellipse cx="768.7" cy="859" rx="5.3" ry="4.2" fill="#f00"/><ellipse cx="780.1" cy="865.4" rx="5.3" ry="4.2" fill="#00f"/><ellipse cx="778.9" cy="866.2" rx="5.3" ry="4.2" fill="#f00"/><ellipse cx="773.2" cy="877.9" rx="5.3" ry="4.2" fill="#00f"/><ellipse cx="772" cy="878.7" rx="5.3" ry="4.2" fill="#f00"/><ellipse cx="817.6" cy="847.3" rx="5.3" ry="4.2" fill="#00f"/><ellipse cx="816.4" cy="848.1" rx="5.3" ry="4.2" fill="#f00"/><ellipse cx="705.4" cy="886.1" rx="5.3" ry="4.2" fill="#00f"/><ellipse cx="704.2" cy="886.9" rx="5.3" ry="4.2" fill="#f00"/><ellipse cx="740.3" cy="901.9" rx="5.3" ry="4.2" fill="#00f"/><ellipse cx="739.1" cy="902.7" rx="5.3" ry="4.2" fill="#f00"/><ellipse cx="737" cy="924.9" rx="5.3" ry="4.2" fill="#00f"/><ellipse cx="735.8" cy="925.7" rx="5.3" ry="4.2" fill="#f00"/><ellipse cx="732.4" cy="937.8" rx="5.3" ry="4.2" fill="#00f"/><ellipse cx="731.2" cy="938.6" rx="5.3" ry="4.2" fill="#f00"/><ellipse cx="748.9" cy="937.8" rx="5.3" ry="4.2" fill="#00f"/><ellipse cx="747.7" cy="938.6" rx="5.3" ry="4.2" fill="#f00"/><ellipse cx="754.1" cy="961.1" rx="5.3" ry="4.2" fill="#00f"/><ellipse cx="752.9" cy="961.9" rx="5.3" ry="4.2" fill="#f00"/><ellipse cx="714.6" cy="965.7" rx="5.3" ry="4.2" fill="#00f"/><ellipse cx="713.4" cy="966.5" rx="5.3" ry="4.2" fill="#f00"/><ellipse cx="734.7" cy="964.4" rx="5.3" ry="4.2" fill="#00f"/><ellipse cx="733.5" cy="965.2" rx="5.3" ry="4.2" fill="#f00"/><ellipse cx="739.6" cy="965.1" rx="5.3" ry="4.2" fill="#00f"/><ellipse cx="738.4" cy="965.9" rx="5.3" ry="4.2" fill="#f00"/><ellipse cx="727.1" cy="979.6" rx="5.3" ry="4.2" fill="#00f"/><ellipse cx="725.9" cy="980.4" rx="5.3" ry="4.2" fill="#f00"/><ellipse cx="725.9" cy="803.3" rx="2.5" ry="2" fill="#00f"/><ellipse cx="725.3" cy="803.7" rx="2.5" ry="2" fill="#f00"/><ellipse cx="695.6" cy="855.3" rx="2.5" ry="2" fill="#00f"/><ellipse cx="695" cy="855.7" rx="2.5" ry="2" fill="#f00"/><ellipse cx="873.3" cy="783.9" rx="2.5" ry="2" fill="#00f"/><ellipse cx="872.7" cy="784.3" rx="2.5" ry="2" fill="#f00"/><ellipse cx="739" cy="656.6" rx="2.5" ry="2" fill="#00f"/><ellipse cx="738.4" cy="657" rx="2.5" ry="2" fill="#f00"/><ellipse cx="883.6" cy="640.8" rx="2.5" ry="2" fill="#00f"/><ellipse cx="883" cy="641.2" rx="2.5" ry="2" fill="#f00"/><rect x="632.3" y="567.6" width="287.1" height="447" fill="none" stroke="#111" stroke-width="1.3"/><line x1="919.4" y1="569.1" x2="929.4" y2="569.1" stroke-width="1.4" stroke="#000"/><line x1="919.4" y1="606.2" x2="922.9" y2="606.2" stroke-width="1.4" stroke="#000"/><line x1="919.4" y1="643.3" x2="929.4" y2="643.3" stroke-width="1.4" stroke="#000"/><text x="934" y="650.3" font-size="17.6" font-weight="bold">120</text><line x1="919.4" y1="680.4" x2="922.9" y2="680.4" stroke-width="1.4" stroke="#000"/><line x1="919.4" y1="717.5" x2="929.4" y2="717.5" stroke-width="1.4" stroke="#000"/><text x="934" y="724.5" font-size="17.6" font-weight="bold">122</text><line x1="919.4" y1="754.6" x2="922.9" y2="754.6" stroke-width="1.4" stroke="#000"/><line x1="919.4" y1="791.7" x2="929.4" y2="791.7" stroke-width="1.4" stroke="#000"/><text x="934" y="798.7" font-size="17.6" font-weight="bold">124</text><line x1="919.4" y1="828.8" x2="922.9" y2="828.8" stroke-width="1.4" stroke="#000"/><line x1="919.4" y1="865.9" x2="929.4" y2="865.9" stroke-width="1.4" stroke="#000"/><text x="934" y="872.9" font-size="17.6" font-weight="bold">126</text><line x1="919.4" y1="903" x2="922.9" y2="903" stroke-width="1.4" stroke="#000"/><line x1="919.4" y1="940.1" x2="929.4" y2="940.1" stroke-width="1.4" stroke="#000"/><text x="934" y="947.1" font-size="17.6" font-weight="bold">128</text><line x1="919.4" y1="977.2" x2="922.9" y2="977.2" stroke-width="1.4" stroke="#000"/><line x1="919.4" y1="1014.3" x2="929.4" y2="1014.3" stroke-width="1.4" stroke="#000"/><text x="934" y="1021.3" font-size="17.6" font-weight="bold">130</text><line x1="660.1" y1="1014.6" x2="660.1" y2="1024.1" stroke-width="1.4" stroke="#000"/><line x1="631.3" y1="1014.6" x2="631.3" y2="1019.1" stroke-width="1.4" stroke="#000"/><text x="660.1" y="1044" font-size="17.6" font-weight="bold" text-anchor="middle">8.6</text><line x1="717.7" y1="1014.6" x2="717.7" y2="1024.1" stroke-width="1.4" stroke="#000"/><line x1="688.9" y1="1014.6" x2="688.9" y2="1019.1" stroke-width="1.4" stroke="#000"/><text x="717.7" y="1044" font-size="17.6" font-weight="bold" text-anchor="middle">8.4</text><line x1="775.4" y1="1014.6" x2="775.4" y2="1024.1" stroke-width="1.4" stroke="#000"/><line x1="746.6" y1="1014.6" x2="746.6" y2="1019.1" stroke-width="1.4" stroke="#000"/><text x="775.4" y="1044" font-size="17.6" font-weight="bold" text-anchor="middle">8.2</text><line x1="833" y1="1014.6" x2="833" y2="1024.1" stroke-width="1.4" stroke="#000"/><line x1="804.2" y1="1014.6" x2="804.2" y2="1019.1" stroke-width="1.4" stroke="#000"/><text x="833" y="1044" font-size="17.6" font-weight="bold" text-anchor="middle">8.0</text><line x1="890.7" y1="1014.6" x2="890.7" y2="1024.1" stroke-width="1.4" stroke="#000"/><line x1="861.9" y1="1014.6" x2="861.9" y2="1019.1" stroke-width="1.4" stroke="#000"/><line x1="632.3" y1="1014.6" x2="632.3" y2="1024.1" stroke-width="1.4" stroke="#000"/><text x="857.5" y="1041" font-size="14.4">δ(<tspan font-size="8.5" dy="-6">1</tspan><tspan dy="6">H)/ppm</tspan></text><text x="923" y="583.6" font-size="15.4">δ(<tspan font-size="9.5" dy="-6.5">15</tspan><tspan dy="6.5">N)/ppm</tspan></text><circle cx="797" cy="667" r="9.3" fill="none" stroke="#000" stroke-width="1.1"/><line x1="777.9" y1="644.5" x2="791" y2="659.6" stroke-width="1" stroke="#000"/><text x="774.6" y="642.5" font-size="13" text-anchor="middle">Val 3</text><circle cx="792.7" cy="739.9" r="9.3" fill="none" stroke="#000" stroke-width="1.1"/><line x1="802" y1="738.6" x2="829" y2="737" stroke-width="1" stroke="#000"/><text x="829.5" y="745.5" font-size="13">Met 5</text><circle cx="761.5" cy="784.3" r="9.3" fill="none" stroke="#000" stroke-width="1.1"/><line x1="753.2" y1="763.9" x2="758.2" y2="775.5" stroke-width="1" stroke="#000"/><text x="750.6" y="762.8" font-size="13" text-anchor="middle">Phe 4</text><circle cx="723.6" cy="848.3" r="9.3" fill="none" stroke="#000" stroke-width="1.1"/><line x1="697.3" y1="832" x2="715.5" y2="843.5" stroke-width="1" stroke="#000"/><text x="694.7" y="830.6" font-size="13" text-anchor="middle">His 50</text><text x="58" y="1092" font-size="23.5">D</text><text x="640.5" y="1091.2" font-size="23.5">E</text><line x1="177.3" y1="1194.6" x2="177.3" y2="1208.7" stroke-width="2" stroke="#ff0000"/><line x1="169.8" y1="1194.6" x2="184.8" y2="1194.6" stroke-width="2" stroke="#ff0000"/><line x1="169.8" y1="1208.7" x2="184.8" y2="1208.7" stroke-width="2" stroke="#ff0000"/><line x1="215.8" y1="1229.4" x2="215.8" y2="1245.9" stroke-width="2" stroke="#ff0000"/><line x1="208.2" y1="1229.4" x2="223.2" y2="1229.4" stroke-width="2" stroke="#ff0000"/><line x1="208.2" y1="1245.9" x2="223.2" y2="1245.9" stroke-width="2" stroke="#ff0000"/><line x1="254.2" y1="1226.4" x2="254.2" y2="1236.1" stroke-width="2" stroke="#ff0000"/><line x1="246.7" y1="1226.4" x2="261.7" y2="1226.4" stroke-width="2" stroke="#ff0000"/><line x1="246.7" y1="1236.1" x2="261.7" y2="1236.1" stroke-width="2" stroke="#ff0000"/><line x1="292.7" y1="1288" x2="292.7" y2="1304.4" stroke-width="2" stroke="#ff0000"/><line x1="285.2" y1="1288" x2="300.2" y2="1288" stroke-width="2" stroke="#ff0000"/><line x1="285.2" y1="1304.4" x2="300.2" y2="1304.4" stroke-width="2" stroke="#ff0000"/><line x1="331.1" y1="1241.6" x2="331.1" y2="1253.8" stroke-width="2" stroke="#ff0000"/><line x1="323.6" y1="1241.6" x2="338.6" y2="1241.6" stroke-width="2" stroke="#ff0000"/><line x1="323.6" y1="1253.8" x2="338.6" y2="1253.8" stroke-width="2" stroke="#ff0000"/><line x1="369.6" y1="1238.6" x2="369.6" y2="1249.5" stroke-width="2" stroke="#ff0000"/><line x1="362.1" y1="1238.6" x2="377.1" y2="1238.6" stroke-width="2" stroke="#ff0000"/><line x1="362.1" y1="1249.5" x2="377.1" y2="1249.5" stroke-width="2" stroke="#ff0000"/><line x1="408" y1="1246.5" x2="408" y2="1264.8" stroke-width="2" stroke="#ff0000"/><line x1="400.5" y1="1246.5" x2="415.5" y2="1246.5" stroke-width="2" stroke="#ff0000"/><line x1="400.5" y1="1264.8" x2="415.5" y2="1264.8" stroke-width="2" stroke="#ff0000"/><line x1="446.5" y1="1160.5" x2="446.5" y2="1234.3" stroke-width="2" stroke="#ff0000"/><line x1="439" y1="1160.5" x2="454" y2="1160.5" stroke-width="2" stroke="#ff0000"/><line x1="439" y1="1234.3" x2="454" y2="1234.3" stroke-width="2" stroke="#ff0000"/><line x1="177.3" y1="1153.8" x2="177.3" y2="1187.9" stroke-width="2" stroke="#00c000"/><line x1="169.8" y1="1153.8" x2="184.8" y2="1153.8" stroke-width="2" stroke="#00c000"/><line x1="169.8" y1="1187.9" x2="184.8" y2="1187.9" stroke-width="2" stroke="#00c000"/><line x1="215.8" y1="1216.6" x2="215.8" y2="1232.5" stroke-width="2" stroke="#00c000"/><line x1="208.2" y1="1216.6" x2="223.2" y2="1216.6" stroke-width="2" stroke="#00c000"/><line x1="208.2" y1="1232.5" x2="223.2" y2="1232.5" stroke-width="2" stroke="#00c000"/><line x1="254.2" y1="1214.2" x2="254.2" y2="1228.2" stroke-width="2" stroke="#00c000"/><line x1="246.7" y1="1214.2" x2="261.7" y2="1214.2" stroke-width="2" stroke="#00c000"/><line x1="246.7" y1="1228.2" x2="261.7" y2="1228.2" stroke-width="2" stroke="#00c000"/><line x1="292.7" y1="1277" x2="292.7" y2="1289.2" stroke-width="2" stroke="#00c000"/><line x1="285.2" y1="1277" x2="300.2" y2="1277" stroke-width="2" stroke="#00c000"/><line x1="285.2" y1="1289.2" x2="300.2" y2="1289.2" stroke-width="2" stroke="#00c000"/><line x1="331.1" y1="1255.6" x2="331.1" y2="1267.8" stroke-width="2" stroke="#00c000"/><line x1="323.6" y1="1255.6" x2="338.6" y2="1255.6" stroke-width="2" stroke="#00c000"/><line x1="323.6" y1="1267.8" x2="338.6" y2="1267.8" stroke-width="2" stroke="#00c000"/><line x1="369.6" y1="1258.7" x2="369.6" y2="1270.9" stroke-width="2" stroke="#00c000"/><line x1="362.1" y1="1258.7" x2="377.1" y2="1258.7" stroke-width="2" stroke="#00c000"/><line x1="362.1" y1="1270.9" x2="377.1" y2="1270.9" stroke-width="2" stroke="#00c000"/><line x1="408" y1="1252.6" x2="408" y2="1270.9" stroke-width="2" stroke="#00c000"/><line x1="400.5" y1="1252.6" x2="415.5" y2="1252.6" stroke-width="2" stroke="#00c000"/><line x1="400.5" y1="1270.9" x2="415.5" y2="1270.9" stroke-width="2" stroke="#00c000"/><line x1="446.5" y1="1217.2" x2="446.5" y2="1244.7" stroke-width="2" stroke="#00c000"/><line x1="439" y1="1217.2" x2="454" y2="1217.2" stroke-width="2" stroke="#00c000"/><line x1="439" y1="1244.7" x2="454" y2="1244.7" stroke-width="2" stroke="#00c000"/><line x1="177.3" y1="1163.5" x2="177.3" y2="1190.4" stroke-width="2" stroke="#9b00f0"/><line x1="169.8" y1="1163.5" x2="184.8" y2="1163.5" stroke-width="2" stroke="#9b00f0"/><line x1="169.8" y1="1190.4" x2="184.8" y2="1190.4" stroke-width="2" stroke="#9b00f0"/><line x1="215.8" y1="1205.6" x2="215.8" y2="1225.1" stroke-width="2" stroke="#9b00f0"/><line x1="208.2" y1="1205.6" x2="223.2" y2="1205.6" stroke-width="2" stroke="#9b00f0"/><line x1="208.2" y1="1225.1" x2="223.2" y2="1225.1" stroke-width="2" stroke="#9b00f0"/><line x1="254.2" y1="1212.9" x2="254.2" y2="1230.6" stroke-width="2" stroke="#9b00f0"/><line x1="246.7" y1="1212.9" x2="261.7" y2="1212.9" stroke-width="2" stroke="#9b00f0"/><line x1="246.7" y1="1230.6" x2="261.7" y2="1230.6" stroke-width="2" stroke="#9b00f0"/><line x1="292.7" y1="1275.2" x2="292.7" y2="1285.5" stroke-width="2" stroke="#9b00f0"/><line x1="285.2" y1="1275.2" x2="300.2" y2="1275.2" stroke-width="2" stroke="#9b00f0"/><line x1="285.2" y1="1285.5" x2="300.2" y2="1285.5" stroke-width="2" stroke="#9b00f0"/><line x1="331.1" y1="1264.8" x2="331.1" y2="1275.8" stroke-width="2" stroke="#9b00f0"/><line x1="323.6" y1="1264.8" x2="338.6" y2="1264.8" stroke-width="2" stroke="#9b00f0"/><line x1="323.6" y1="1275.8" x2="338.6" y2="1275.8" stroke-width="2" stroke="#9b00f0"/><line x1="369.6" y1="1270.9" x2="369.6" y2="1281.9" stroke-width="2" stroke="#9b00f0"/><line x1="362.1" y1="1270.9" x2="377.1" y2="1270.9" stroke-width="2" stroke="#9b00f0"/><line x1="362.1" y1="1281.9" x2="377.1" y2="1281.9" stroke-width="2" stroke="#9b00f0"/><line x1="408" y1="1249.5" x2="408" y2="1269.1" stroke-width="2" stroke="#9b00f0"/><line x1="400.5" y1="1249.5" x2="415.5" y2="1249.5" stroke-width="2" stroke="#9b00f0"/><line x1="400.5" y1="1269.1" x2="415.5" y2="1269.1" stroke-width="2" stroke="#9b00f0"/><line x1="446.5" y1="1220.9" x2="446.5" y2="1244.1" stroke-width="2" stroke="#9b00f0"/><line x1="439" y1="1220.9" x2="454" y2="1220.9" stroke-width="2" stroke="#9b00f0"/><line x1="439" y1="1244.1" x2="454" y2="1244.1" stroke-width="2" stroke="#9b00f0"/><line x1="177.3" y1="1177.6" x2="177.3" y2="1194" stroke-width="2" stroke="#0000ff"/><line x1="169.8" y1="1177.6" x2="184.8" y2="1177.6" stroke-width="2" stroke="#0000ff"/><line x1="169.8" y1="1194" x2="184.8" y2="1194" stroke-width="2" stroke="#0000ff"/><line x1="215.8" y1="1219" x2="215.8" y2="1237.3" stroke-width="2" stroke="#0000ff"/><line x1="208.2" y1="1219" x2="223.2" y2="1219" stroke-width="2" stroke="#0000ff"/><line x1="208.2" y1="1237.3" x2="223.2" y2="1237.3" stroke-width="2" stroke="#0000ff"/><line x1="254.2" y1="1219" x2="254.2" y2="1232.5" stroke-width="2" stroke="#0000ff"/><line x1="246.7" y1="1219" x2="261.7" y2="1219" stroke-width="2" stroke="#0000ff"/><line x1="246.7" y1="1232.5" x2="261.7" y2="1232.5" stroke-width="2" stroke="#0000ff"/><line x1="292.7" y1="1278.2" x2="292.7" y2="1291.6" stroke-width="2" stroke="#0000ff"/><line x1="285.2" y1="1278.2" x2="300.2" y2="1278.2" stroke-width="2" stroke="#0000ff"/><line x1="285.2" y1="1291.6" x2="300.2" y2="1291.6" stroke-width="2" stroke="#0000ff"/><line x1="331.1" y1="1261.8" x2="331.1" y2="1273.3" stroke-width="2" stroke="#0000ff"/><line x1="323.6" y1="1261.8" x2="338.6" y2="1261.8" stroke-width="2" stroke="#0000ff"/><line x1="323.6" y1="1273.3" x2="338.6" y2="1273.3" stroke-width="2" stroke="#0000ff"/><line x1="369.6" y1="1266" x2="369.6" y2="1277" stroke-width="2" stroke="#0000ff"/><line x1="362.1" y1="1266" x2="377.1" y2="1266" stroke-width="2" stroke="#0000ff"/><line x1="362.1" y1="1277" x2="377.1" y2="1277" stroke-width="2" stroke="#0000ff"/><line x1="408" y1="1245.3" x2="408" y2="1267.8" stroke-width="2" stroke="#0000ff"/><line x1="400.5" y1="1245.3" x2="415.5" y2="1245.3" stroke-width="2" stroke="#0000ff"/><line x1="400.5" y1="1267.8" x2="415.5" y2="1267.8" stroke-width="2" stroke="#0000ff"/><line x1="446.5" y1="1228.2" x2="446.5" y2="1246.5" stroke-width="2" stroke="#0000ff"/><line x1="439" y1="1228.2" x2="454" y2="1228.2" stroke-width="2" stroke="#0000ff"/><line x1="439" y1="1246.5" x2="454" y2="1246.5" stroke-width="2" stroke="#0000ff"/><line x1="177.3" y1="1173.3" x2="177.3" y2="1188.5" stroke-width="1.3" stroke="#000"/><line x1="171.8" y1="1173.3" x2="182.8" y2="1173.3" stroke-width="1.3" stroke="#000"/><line x1="171.8" y1="1188.5" x2="182.8" y2="1188.5" stroke-width="1.3" stroke="#000"/><line x1="215.8" y1="1216" x2="215.8" y2="1225.1" stroke-width="1.3" stroke="#000"/><line x1="210.2" y1="1216" x2="221.2" y2="1216" stroke-width="1.3" stroke="#000"/><line x1="210.2" y1="1225.1" x2="221.2" y2="1225.1" stroke-width="1.3" stroke="#000"/><line x1="254.2" y1="1225.1" x2="254.2" y2="1233.1" stroke-width="1.3" stroke="#000"/><line x1="248.7" y1="1225.1" x2="259.7" y2="1225.1" stroke-width="1.3" stroke="#000"/><line x1="248.7" y1="1233.1" x2="259.7" y2="1233.1" stroke-width="1.3" stroke="#000"/><line x1="292.7" y1="1286.1" x2="292.7" y2="1292.2" stroke-width="1.3" stroke="#000"/><line x1="287.2" y1="1286.1" x2="298.2" y2="1286.1" stroke-width="1.3" stroke="#000"/><line x1="287.2" y1="1292.2" x2="298.2" y2="1292.2" stroke-width="1.3" stroke="#000"/><line x1="331.1" y1="1264.8" x2="331.1" y2="1270.9" stroke-width="1.3" stroke="#000"/><line x1="325.6" y1="1264.8" x2="336.6" y2="1264.8" stroke-width="1.3" stroke="#000"/><line x1="325.6" y1="1270.9" x2="336.6" y2="1270.9" stroke-width="1.3" stroke="#000"/><line x1="369.6" y1="1270.9" x2="369.6" y2="1286.1" stroke-width="1.3" stroke="#000"/><line x1="364.1" y1="1270.9" x2="375.1" y2="1270.9" stroke-width="1.3" stroke="#000"/><line x1="364.1" y1="1286.1" x2="375.1" y2="1286.1" stroke-width="1.3" stroke="#000"/><line x1="408" y1="1258.7" x2="408" y2="1277" stroke-width="1.3" stroke="#000"/><line x1="402.5" y1="1258.7" x2="413.5" y2="1258.7" stroke-width="1.3" stroke="#000"/><line x1="402.5" y1="1277" x2="413.5" y2="1277" stroke-width="1.3" stroke="#000"/><line x1="446.5" y1="1239.2" x2="446.5" y2="1253.8" stroke-width="1.3" stroke="#000"/><line x1="441" y1="1239.2" x2="452" y2="1239.2" stroke-width="1.3" stroke="#000"/><line x1="441" y1="1253.8" x2="452" y2="1253.8" stroke-width="1.3" stroke="#000"/><polyline points="177.3,1180.6 215.8,1220.9 254.2,1229.4 292.7,1289.2 331.1,1267.8 369.6,1278.2 408,1267.8 446.5,1246.5" fill="none" stroke="#000" stroke-width="2.2" stroke-linejoin="round" stroke-dasharray="5.5,4"/><circle cx="177.3" cy="1180.6" r="3.6" fill="#000"/><circle cx="215.8" cy="1220.9" r="3.6" fill="#000"/><circle cx="254.2" cy="1229.4" r="3.6" fill="#000"/><circle cx="292.7" cy="1289.2" r="3.6" fill="#000"/><circle cx="331.1" cy="1267.8" r="3.6" fill="#000"/><circle cx="369.6" cy="1278.2" r="3.6" fill="#000"/><circle cx="408" cy="1267.8" r="3.6" fill="#000"/><circle cx="446.5" cy="1246.5" r="3.6" fill="#000"/><path d="M177.3,1199 L182.1,1207.6 L172.5,1207.6Z" fill="#ff0000"/><path d="M215.8,1233.2 L220.6,1241.8 L210.9,1241.8Z" fill="#ff0000"/><path d="M254.2,1226.5 L259,1235.1 L249.4,1235.1Z" fill="#ff0000"/><path d="M292.7,1292.3 L297.5,1301 L287.9,1301Z" fill="#ff0000"/><path d="M331.1,1242.3 L335.9,1250.9 L326.3,1250.9Z" fill="#ff0000"/><path d="M369.6,1239.9 L374.4,1248.5 L364.8,1248.5Z" fill="#ff0000"/><path d="M408,1250.8 L412.8,1259.5 L403.2,1259.5Z" fill="#ff0000"/><path d="M446.5,1193.5 L451.3,1202.1 L441.7,1202.1Z" fill="#ff0000"/><rect x="173" y="1166.6" width="8.6" height="8.6" fill="#00c000"/><rect x="211.4" y="1220.2" width="8.6" height="8.6" fill="#00c000"/><rect x="249.9" y="1217.8" width="8.6" height="8.6" fill="#00c000"/><rect x="288.4" y="1278.8" width="8.6" height="8.6" fill="#00c000"/><rect x="326.8" y="1257.5" width="8.6" height="8.6" fill="#00c000"/><rect x="365.2" y="1260.5" width="8.6" height="8.6" fill="#00c000"/><rect x="403.7" y="1257.5" width="8.6" height="8.6" fill="#00c000"/><rect x="442.2" y="1227" width="8.6" height="8.6" fill="#00c000"/><path d="M177.3,1181.1 L182.1,1172.5 L172.5,1172.5Z" fill="#9b00f0"/><path d="M215.8,1220.2 L220.6,1211.5 L210.9,1211.5Z" fill="#9b00f0"/><path d="M254.2,1226.9 L259,1218.3 L249.4,1218.3Z" fill="#9b00f0"/><path d="M292.7,1284.8 L297.5,1276.2 L287.9,1276.2Z" fill="#9b00f0"/><path d="M331.1,1275.7 L335.9,1267.1 L326.3,1267.1Z" fill="#9b00f0"/><path d="M369.6,1282.4 L374.4,1273.8 L364.8,1273.8Z" fill="#9b00f0"/><path d="M408,1261.1 L412.8,1252.4 L403.2,1252.4Z" fill="#9b00f0"/><path d="M446.5,1239.1 L451.3,1230.5 L441.7,1230.5Z" fill="#9b00f0"/><path d="M177.3,1181.8 L181.6,1186.1 L177.3,1190.4 L173,1186.1Z" fill="#0000ff"/><path d="M215.8,1222.7 L220.1,1227 L215.8,1231.3 L211.4,1227Z" fill="#0000ff"/><path d="M254.2,1220.8 L258.5,1225.1 L254.2,1229.4 L249.9,1225.1Z" fill="#0000ff"/><path d="M292.7,1280 L297,1284.3 L292.7,1288.6 L288.4,1284.3Z" fill="#0000ff"/><path d="M331.1,1263.5 L335.4,1267.8 L331.1,1272.1 L326.8,1267.8Z" fill="#0000ff"/><path d="M369.6,1267.2 L373.9,1271.5 L369.6,1275.8 L365.2,1271.5Z" fill="#0000ff"/><path d="M408,1250.1 L412.3,1254.4 L408,1258.7 L403.7,1254.4Z" fill="#0000ff"/><path d="M446.5,1233 L450.8,1237.3 L446.5,1241.6 L442.2,1237.3Z" fill="#0000ff"/><rect x="151.7" y="1130.6" width="320.8" height="213.6" fill="none" stroke="#000" stroke-width="2"/><line x1="145.7" y1="1313.6" x2="151.7" y2="1313.6" stroke-width="2" stroke="#000"/><text x="142.9" y="1318.9" font-size="15" font-weight="bold" text-anchor="end">30</text><line x1="145.7" y1="1252.6" x2="151.7" y2="1252.6" stroke-width="2" stroke="#000"/><text x="142.9" y="1257.9" font-size="15" font-weight="bold" text-anchor="end">40</text><line x1="145.7" y1="1191.6" x2="151.7" y2="1191.6" stroke-width="2" stroke="#000"/><text x="142.9" y="1196.9" font-size="15" font-weight="bold" text-anchor="end">50</text><line x1="145.7" y1="1130.6" x2="151.7" y2="1130.6" stroke-width="2" stroke="#000"/><text x="142.9" y="1135.9" font-size="15" font-weight="bold" text-anchor="end">60</text><line x1="177.3" y1="1344.2" x2="177.3" y2="1350.7" stroke-width="2" stroke="#000"/><text transform="translate(183.1,1363) rotate(-45)" text-anchor="end" font-size="16.8" font-weight="bold">Fam<tspan font-size="12.5" font-weight="normal" dy="-7" dx="-0.8">9</tspan><tspan dy="7" dx="0.8">-Raz</tspan><tspan font-size="12.5" font-weight="normal" dy="-7">94</tspan></text><line x1="215.8" y1="1344.2" x2="215.8" y2="1350.7" stroke-width="2" stroke="#000"/><text transform="translate(221.6,1363) rotate(-45)" text-anchor="end" font-size="16.8" font-weight="bold">Fam<tspan font-size="12.5" font-weight="normal" dy="-7" dx="-0.8">42</tspan><tspan dy="7" dx="0.8">-Raz</tspan><tspan font-size="12.5" font-weight="normal" dy="-7">94</tspan></text><line x1="254.2" y1="1344.2" x2="254.2" y2="1350.7" stroke-width="2" stroke="#000"/><text transform="translate(260,1363) rotate(-45)" text-anchor="end" font-size="16.8" font-weight="bold">Fam<tspan font-size="12.5" font-weight="normal" dy="-7" dx="-0.8">62</tspan><tspan dy="7" dx="0.8">-Raz</tspan><tspan font-size="12.5" font-weight="normal" dy="-7">35</tspan></text><line x1="292.7" y1="1344.2" x2="292.7" y2="1350.7" stroke-width="2" stroke="#000"/><text transform="translate(298.5,1363) rotate(-45)" text-anchor="end" font-size="16.8" font-weight="bold">Fam<tspan font-size="12.5" font-weight="normal" dy="-7" dx="-0.8">62</tspan><tspan dy="7" dx="0.8">-Raz</tspan><tspan font-size="12.5" font-weight="normal" dy="-7">94</tspan></text><line x1="331.1" y1="1344.2" x2="331.1" y2="1350.7" stroke-width="2" stroke="#000"/><text transform="translate(336.9,1363) rotate(-45)" text-anchor="end" font-size="16.8" font-weight="bold">Fam<tspan font-size="12.5" font-weight="normal" dy="-7" dx="-0.8">114</tspan><tspan dy="7" dx="0.8">-Raz</tspan><tspan font-size="12.5" font-weight="normal" dy="-7">35</tspan></text><line x1="369.6" y1="1344.2" x2="369.6" y2="1350.7" stroke-width="2" stroke="#000"/><text transform="translate(375.4,1363) rotate(-45)" text-anchor="end" font-size="16.8" font-weight="bold">Fam<tspan font-size="12.5" font-weight="normal" dy="-7" dx="-0.8">123</tspan><tspan dy="7" dx="0.8">-Raz</tspan><tspan font-size="12.5" font-weight="normal" dy="-7">35</tspan></text><line x1="408" y1="1344.2" x2="408" y2="1350.7" stroke-width="2" stroke="#000"/><text transform="translate(413.8,1363) rotate(-45)" text-anchor="end" font-size="16.8" font-weight="bold">Fam<tspan font-size="12.5" font-weight="normal" dy="-7" dx="-0.8">123</tspan><tspan dy="7" dx="0.8">-Raz</tspan><tspan font-size="12.5" font-weight="normal" dy="-7">94</tspan></text><line x1="446.5" y1="1344.2" x2="446.5" y2="1350.7" stroke-width="2" stroke="#000"/><text transform="translate(452.3,1363) rotate(-45)" text-anchor="end" font-size="16.8" font-weight="bold">Fam<tspan font-size="12.5" font-weight="normal" dy="-7" dx="-0.8">136</tspan><tspan dy="7" dx="0.8">-Raz</tspan><tspan font-size="12.5" font-weight="normal" dy="-7">94</tspan></text><text x="312.1" y="1463.8" font-size="17.3" font-weight="bold" text-anchor="middle">Residue Pair</text><text transform="translate(118.7,1237.4) rotate(-90)" text-anchor="middle" font-size="17.5" font-weight="bold">Average Distance (Å)</text><text x="311.2" y="1094.2" font-size="23.6" text-anchor="middle">0 hours</text><line x1="761.8" y1="1266.8" x2="761.8" y2="1277.1" stroke-width="2" stroke="#ff0000"/><line x1="754.3" y1="1266.8" x2="769.3" y2="1266.8" stroke-width="2" stroke="#ff0000"/><line x1="754.3" y1="1277.1" x2="769.3" y2="1277.1" stroke-width="2" stroke="#ff0000"/><line x1="800.2" y1="1272.8" x2="800.2" y2="1280.2" stroke-width="2" stroke="#ff0000"/><line x1="792.8" y1="1272.8" x2="807.8" y2="1272.8" stroke-width="2" stroke="#ff0000"/><line x1="792.8" y1="1280.2" x2="807.8" y2="1280.2" stroke-width="2" stroke="#ff0000"/><line x1="838.7" y1="1207.6" x2="838.7" y2="1232" stroke-width="2" stroke="#ff0000"/><line x1="831.2" y1="1207.6" x2="846.2" y2="1207.6" stroke-width="2" stroke="#ff0000"/><line x1="831.2" y1="1232" x2="846.2" y2="1232" stroke-width="2" stroke="#ff0000"/><line x1="877.1" y1="1294.2" x2="877.1" y2="1311.3" stroke-width="2" stroke="#ff0000"/><line x1="869.6" y1="1294.2" x2="884.6" y2="1294.2" stroke-width="2" stroke="#ff0000"/><line x1="869.6" y1="1311.3" x2="884.6" y2="1311.3" stroke-width="2" stroke="#ff0000"/><line x1="915.6" y1="1232" x2="915.6" y2="1247.8" stroke-width="2" stroke="#ff0000"/><line x1="908.1" y1="1232" x2="923.1" y2="1232" stroke-width="2" stroke="#ff0000"/><line x1="908.1" y1="1247.8" x2="923.1" y2="1247.8" stroke-width="2" stroke="#ff0000"/><line x1="954" y1="1208.2" x2="954" y2="1219.8" stroke-width="2" stroke="#ff0000"/><line x1="946.5" y1="1208.2" x2="961.5" y2="1208.2" stroke-width="2" stroke="#ff0000"/><line x1="946.5" y1="1219.8" x2="961.5" y2="1219.8" stroke-width="2" stroke="#ff0000"/><line x1="992.5" y1="1216.1" x2="992.5" y2="1229.5" stroke-width="2" stroke="#ff0000"/><line x1="985" y1="1216.1" x2="1000" y2="1216.1" stroke-width="2" stroke="#ff0000"/><line x1="985" y1="1229.5" x2="1000" y2="1229.5" stroke-width="2" stroke="#ff0000"/><line x1="1031" y1="1150.8" x2="1031" y2="1175.2" stroke-width="2" stroke="#ff0000"/><line x1="1023.5" y1="1150.8" x2="1038.5" y2="1150.8" stroke-width="2" stroke="#ff0000"/><line x1="1023.5" y1="1175.2" x2="1038.5" y2="1175.2" stroke-width="2" stroke="#ff0000"/><line x1="761.8" y1="1153.9" x2="761.8" y2="1172.2" stroke-width="2" stroke="#00c000"/><line x1="754.3" y1="1153.9" x2="769.3" y2="1153.9" stroke-width="2" stroke="#00c000"/><line x1="754.3" y1="1172.2" x2="769.3" y2="1172.2" stroke-width="2" stroke="#00c000"/><line x1="800.2" y1="1208.8" x2="800.2" y2="1228.3" stroke-width="2" stroke="#00c000"/><line x1="792.8" y1="1208.8" x2="807.8" y2="1208.8" stroke-width="2" stroke="#00c000"/><line x1="792.8" y1="1228.3" x2="807.8" y2="1228.3" stroke-width="2" stroke="#00c000"/><line x1="838.7" y1="1202.7" x2="838.7" y2="1221" stroke-width="2" stroke="#00c000"/><line x1="831.2" y1="1202.7" x2="846.2" y2="1202.7" stroke-width="2" stroke="#00c000"/><line x1="831.2" y1="1221" x2="846.2" y2="1221" stroke-width="2" stroke="#00c000"/><line x1="877.1" y1="1274.7" x2="877.1" y2="1288.1" stroke-width="2" stroke="#00c000"/><line x1="869.6" y1="1274.7" x2="884.6" y2="1274.7" stroke-width="2" stroke="#00c000"/><line x1="869.6" y1="1288.1" x2="884.6" y2="1288.1" stroke-width="2" stroke="#00c000"/><line x1="915.6" y1="1234.4" x2="915.6" y2="1251.5" stroke-width="2" stroke="#00c000"/><line x1="908.1" y1="1234.4" x2="923.1" y2="1234.4" stroke-width="2" stroke="#00c000"/><line x1="908.1" y1="1251.5" x2="923.1" y2="1251.5" stroke-width="2" stroke="#00c000"/><line x1="954" y1="1238.7" x2="954" y2="1252.7" stroke-width="2" stroke="#00c000"/><line x1="946.5" y1="1238.7" x2="961.5" y2="1238.7" stroke-width="2" stroke="#00c000"/><line x1="946.5" y1="1252.7" x2="961.5" y2="1252.7" stroke-width="2" stroke="#00c000"/><line x1="992.5" y1="1257.6" x2="992.5" y2="1272.8" stroke-width="2" stroke="#00c000"/><line x1="985" y1="1257.6" x2="1000" y2="1257.6" stroke-width="2" stroke="#00c000"/><line x1="985" y1="1272.8" x2="1000" y2="1272.8" stroke-width="2" stroke="#00c000"/><line x1="1031" y1="1207" x2="1031" y2="1224" stroke-width="2" stroke="#00c000"/><line x1="1023.5" y1="1207" x2="1038.5" y2="1207" stroke-width="2" stroke="#00c000"/><line x1="1023.5" y1="1224" x2="1038.5" y2="1224" stroke-width="2" stroke="#00c000"/><line x1="761.8" y1="1167.3" x2="761.8" y2="1187.5" stroke-width="2" stroke="#9b00f0"/><line x1="754.3" y1="1167.3" x2="769.3" y2="1167.3" stroke-width="2" stroke="#9b00f0"/><line x1="754.3" y1="1187.5" x2="769.3" y2="1187.5" stroke-width="2" stroke="#9b00f0"/><line x1="800.2" y1="1206.4" x2="800.2" y2="1225.3" stroke-width="2" stroke="#9b00f0"/><line x1="792.8" y1="1206.4" x2="807.8" y2="1206.4" stroke-width="2" stroke="#9b00f0"/><line x1="792.8" y1="1225.3" x2="807.8" y2="1225.3" stroke-width="2" stroke="#9b00f0"/><line x1="838.7" y1="1206.4" x2="838.7" y2="1223.4" stroke-width="2" stroke="#9b00f0"/><line x1="831.2" y1="1206.4" x2="846.2" y2="1206.4" stroke-width="2" stroke="#9b00f0"/><line x1="831.2" y1="1223.4" x2="846.2" y2="1223.4" stroke-width="2" stroke="#9b00f0"/><line x1="877.1" y1="1275.9" x2="877.1" y2="1288.1" stroke-width="2" stroke="#9b00f0"/><line x1="869.6" y1="1275.9" x2="884.6" y2="1275.9" stroke-width="2" stroke="#9b00f0"/><line x1="869.6" y1="1288.1" x2="884.6" y2="1288.1" stroke-width="2" stroke="#9b00f0"/><line x1="915.6" y1="1239.3" x2="915.6" y2="1252.7" stroke-width="2" stroke="#9b00f0"/><line x1="908.1" y1="1239.3" x2="923.1" y2="1239.3" stroke-width="2" stroke="#9b00f0"/><line x1="908.1" y1="1252.7" x2="923.1" y2="1252.7" stroke-width="2" stroke="#9b00f0"/><line x1="954" y1="1245.4" x2="954" y2="1257.6" stroke-width="2" stroke="#9b00f0"/><line x1="946.5" y1="1245.4" x2="961.5" y2="1245.4" stroke-width="2" stroke="#9b00f0"/><line x1="946.5" y1="1257.6" x2="961.5" y2="1257.6" stroke-width="2" stroke="#9b00f0"/><line x1="992.5" y1="1258.8" x2="992.5" y2="1271.6" stroke-width="2" stroke="#9b00f0"/><line x1="985" y1="1258.8" x2="1000" y2="1258.8" stroke-width="2" stroke="#9b00f0"/><line x1="985" y1="1271.6" x2="1000" y2="1271.6" stroke-width="2" stroke="#9b00f0"/><line x1="1031" y1="1205.8" x2="1031" y2="1221" stroke-width="2" stroke="#9b00f0"/><line x1="1023.5" y1="1205.8" x2="1038.5" y2="1205.8" stroke-width="2" stroke="#9b00f0"/><line x1="1023.5" y1="1221" x2="1038.5" y2="1221" stroke-width="2" stroke="#9b00f0"/><line x1="761.8" y1="1144.8" x2="761.8" y2="1169.2" stroke-width="2" stroke="#0000ff"/><line x1="754.3" y1="1144.8" x2="769.3" y2="1144.8" stroke-width="2" stroke="#0000ff"/><line x1="754.3" y1="1169.2" x2="769.3" y2="1169.2" stroke-width="2" stroke="#0000ff"/><line x1="800.2" y1="1211.2" x2="800.2" y2="1230.2" stroke-width="2" stroke="#0000ff"/><line x1="792.8" y1="1211.2" x2="807.8" y2="1211.2" stroke-width="2" stroke="#0000ff"/><line x1="792.8" y1="1230.2" x2="807.8" y2="1230.2" stroke-width="2" stroke="#0000ff"/><line x1="838.7" y1="1205.8" x2="838.7" y2="1221" stroke-width="2" stroke="#0000ff"/><line x1="831.2" y1="1205.8" x2="846.2" y2="1205.8" stroke-width="2" stroke="#0000ff"/><line x1="831.2" y1="1221" x2="846.2" y2="1221" stroke-width="2" stroke="#0000ff"/><line x1="877.1" y1="1278.3" x2="877.1" y2="1292.4" stroke-width="2" stroke="#0000ff"/><line x1="869.6" y1="1278.3" x2="884.6" y2="1278.3" stroke-width="2" stroke="#0000ff"/><line x1="869.6" y1="1292.4" x2="884.6" y2="1292.4" stroke-width="2" stroke="#0000ff"/><line x1="915.6" y1="1243.6" x2="915.6" y2="1258.2" stroke-width="2" stroke="#0000ff"/><line x1="908.1" y1="1243.6" x2="923.1" y2="1243.6" stroke-width="2" stroke="#0000ff"/><line x1="908.1" y1="1258.2" x2="923.1" y2="1258.2" stroke-width="2" stroke="#0000ff"/><line x1="954" y1="1244.2" x2="954" y2="1260.7" stroke-width="2" stroke="#0000ff"/><line x1="946.5" y1="1244.2" x2="961.5" y2="1244.2" stroke-width="2" stroke="#0000ff"/><line x1="946.5" y1="1260.7" x2="961.5" y2="1260.7" stroke-width="2" stroke="#0000ff"/><line x1="992.5" y1="1251.5" x2="992.5" y2="1272.8" stroke-width="2" stroke="#0000ff"/><line x1="985" y1="1251.5" x2="1000" y2="1251.5" stroke-width="2" stroke="#0000ff"/><line x1="985" y1="1272.8" x2="1000" y2="1272.8" stroke-width="2" stroke="#0000ff"/><line x1="1031" y1="1216.1" x2="1031" y2="1232" stroke-width="2" stroke="#0000ff"/><line x1="1023.5" y1="1216.1" x2="1038.5" y2="1216.1" stroke-width="2" stroke="#0000ff"/><line x1="1023.5" y1="1232" x2="1038.5" y2="1232" stroke-width="2" stroke="#0000ff"/><line x1="761.8" y1="1164.3" x2="761.8" y2="1175.2" stroke-width="1.3" stroke="#000"/><line x1="756.3" y1="1164.3" x2="767.3" y2="1164.3" stroke-width="1.3" stroke="#000"/><line x1="756.3" y1="1175.2" x2="767.3" y2="1175.2" stroke-width="1.3" stroke="#000"/><line x1="800.2" y1="1210" x2="800.2" y2="1221" stroke-width="1.3" stroke="#000"/><line x1="794.8" y1="1210" x2="805.8" y2="1210" stroke-width="1.3" stroke="#000"/><line x1="794.8" y1="1221" x2="805.8" y2="1221" stroke-width="1.3" stroke="#000"/><line x1="838.7" y1="1210.6" x2="838.7" y2="1219.2" stroke-width="1.3" stroke="#000"/><line x1="833.2" y1="1210.6" x2="844.2" y2="1210.6" stroke-width="1.3" stroke="#000"/><line x1="833.2" y1="1219.2" x2="844.2" y2="1219.2" stroke-width="1.3" stroke="#000"/><line x1="877.1" y1="1282" x2="877.1" y2="1288.1" stroke-width="1.3" stroke="#000"/><line x1="871.6" y1="1282" x2="882.6" y2="1282" stroke-width="1.3" stroke="#000"/><line x1="871.6" y1="1288.1" x2="882.6" y2="1288.1" stroke-width="1.3" stroke="#000"/><line x1="915.6" y1="1245.4" x2="915.6" y2="1257.6" stroke-width="1.3" stroke="#000"/><line x1="910.1" y1="1245.4" x2="921.1" y2="1245.4" stroke-width="1.3" stroke="#000"/><line x1="910.1" y1="1257.6" x2="921.1" y2="1257.6" stroke-width="1.3" stroke="#000"/><line x1="954" y1="1253.3" x2="954" y2="1261.9" stroke-width="1.3" stroke="#000"/><line x1="948.5" y1="1253.3" x2="959.5" y2="1253.3" stroke-width="1.3" stroke="#000"/><line x1="948.5" y1="1261.9" x2="959.5" y2="1261.9" stroke-width="1.3" stroke="#000"/><line x1="992.5" y1="1265.5" x2="992.5" y2="1274.1" stroke-width="1.3" stroke="#000"/><line x1="987" y1="1265.5" x2="998" y2="1265.5" stroke-width="1.3" stroke="#000"/><line x1="987" y1="1274.1" x2="998" y2="1274.1" stroke-width="1.3" stroke="#000"/><line x1="1031" y1="1221" x2="1031" y2="1239.3" stroke-width="1.3" stroke="#000"/><line x1="1025.5" y1="1221" x2="1036.5" y2="1221" stroke-width="1.3" stroke="#000"/><line x1="1025.5" y1="1239.3" x2="1036.5" y2="1239.3" stroke-width="1.3" stroke="#000"/><polyline points="761.8,1169.8 800.2,1215.5 838.7,1214.9 877.1,1285 915.6,1251.5 954,1257.6 992.5,1269.8 1031,1228.3" fill="none" stroke="#000" stroke-width="2.2" stroke-linejoin="round" stroke-dasharray="5.5,4"/><circle cx="761.8" cy="1169.8" r="3.6" fill="#000"/><circle cx="800.2" cy="1215.5" r="3.6" fill="#000"/><circle cx="838.7" cy="1214.9" r="3.6" fill="#000"/><circle cx="877.1" cy="1285" r="3.6" fill="#000"/><circle cx="915.6" cy="1251.5" r="3.6" fill="#000"/><circle cx="954" cy="1257.6" r="3.6" fill="#000"/><circle cx="992.5" cy="1269.8" r="3.6" fill="#000"/><circle cx="1031" cy="1228.3" r="3.6" fill="#000"/><path d="M761.8,1267.4 L766.6,1276.1 L757,1276.1Z" fill="#ff0000"/><path d="M800.2,1272.3 L805,1281 L795.5,1281Z" fill="#ff0000"/><path d="M838.7,1215 L843.5,1223.6 L833.9,1223.6Z" fill="#ff0000"/><path d="M877.1,1299.2 L881.9,1307.8 L872.4,1307.8Z" fill="#ff0000"/><path d="M915.6,1234.5 L920.4,1243.1 L910.8,1243.1Z" fill="#ff0000"/><path d="M954,1209.5 L958.8,1218.1 L949.2,1218.1Z" fill="#ff0000"/><path d="M992.5,1218.6 L997.3,1227.3 L987.7,1227.3Z" fill="#ff0000"/><path d="M1031,1159.5 L1035.8,1168.1 L1026.2,1168.1Z" fill="#ff0000"/><rect x="757.5" y="1156.9" width="8.6" height="8.6" fill="#00c000"/><rect x="796" y="1213.7" width="8.6" height="8.6" fill="#00c000"/><rect x="834.4" y="1207.5" width="8.6" height="8.6" fill="#00c000"/><rect x="872.9" y="1274.7" width="8.6" height="8.6" fill="#00c000"/><rect x="911.3" y="1236.2" width="8.6" height="8.6" fill="#00c000"/><rect x="949.8" y="1241.1" width="8.6" height="8.6" fill="#00c000"/><rect x="988.2" y="1260.6" width="8.6" height="8.6" fill="#00c000"/><rect x="1026.7" y="1210.6" width="8.6" height="8.6" fill="#00c000"/><path d="M761.8,1180 L766.6,1171.4 L757,1171.4Z" fill="#9b00f0"/><path d="M800.2,1222.8 L805,1214.1 L795.5,1214.1Z" fill="#9b00f0"/><path d="M838.7,1219.7 L843.5,1211.1 L833.9,1211.1Z" fill="#9b00f0"/><path d="M877.1,1286.8 L881.9,1278.2 L872.4,1278.2Z" fill="#9b00f0"/><path d="M915.6,1250.2 L920.4,1241.6 L910.8,1241.6Z" fill="#9b00f0"/><path d="M954,1254.5 L958.8,1245.8 L949.2,1245.8Z" fill="#9b00f0"/><path d="M992.5,1271.5 L997.3,1262.9 L987.7,1262.9Z" fill="#9b00f0"/><path d="M1031,1216.6 L1035.8,1208 L1026.2,1208Z" fill="#9b00f0"/><path d="M761.8,1153.3 L766.1,1157.6 L761.8,1161.9 L757.5,1157.6Z" fill="#0000ff"/><path d="M800.2,1215.5 L804.5,1219.8 L800.2,1224.1 L796,1219.8Z" fill="#0000ff"/><path d="M838.7,1207.5 L843,1211.8 L838.7,1216.1 L834.4,1211.8Z" fill="#0000ff"/><path d="M877.1,1280.8 L881.4,1285 L877.1,1289.3 L872.9,1285Z" fill="#0000ff"/><path d="M915.6,1247.2 L919.9,1251.5 L915.6,1255.8 L911.3,1251.5Z" fill="#0000ff"/><path d="M954,1247.2 L958.3,1251.5 L954,1255.8 L949.8,1251.5Z" fill="#0000ff"/><path d="M992.5,1257.6 L996.8,1261.9 L992.5,1266.2 L988.2,1261.9Z" fill="#0000ff"/><path d="M1031,1216.7 L1035.2,1221 L1031,1225.3 L1026.7,1221Z" fill="#0000ff"/><rect x="735.9" y="1129.5" width="321.4" height="213.7" fill="none" stroke="#000" stroke-width="2"/><line x1="729.9" y1="1312.5" x2="735.9" y2="1312.5" stroke-width="2" stroke="#000"/><text x="727.1" y="1317.8" font-size="15" font-weight="bold" text-anchor="end">30</text><line x1="729.9" y1="1251.5" x2="735.9" y2="1251.5" stroke-width="2" stroke="#000"/><text x="727.1" y="1256.8" font-size="15" font-weight="bold" text-anchor="end">40</text><line x1="729.9" y1="1190.5" x2="735.9" y2="1190.5" stroke-width="2" stroke="#000"/><text x="727.1" y="1195.8" font-size="15" font-weight="bold" text-anchor="end">50</text><line x1="729.9" y1="1129.5" x2="735.9" y2="1129.5" stroke-width="2" stroke="#000"/><text x="727.1" y="1134.8" font-size="15" font-weight="bold" text-anchor="end">60</text><line x1="761.8" y1="1343.2" x2="761.8" y2="1349.7" stroke-width="2" stroke="#000"/><text transform="translate(767.6,1362) rotate(-45)" text-anchor="end" font-size="16.8" font-weight="bold">Fam<tspan font-size="12.5" font-weight="normal" dy="-7" dx="-0.8">9</tspan><tspan dy="7" dx="0.8">-Raz</tspan><tspan font-size="12.5" font-weight="normal" dy="-7">94</tspan></text><line x1="800.2" y1="1343.2" x2="800.2" y2="1349.7" stroke-width="2" stroke="#000"/><text transform="translate(806,1362) rotate(-45)" text-anchor="end" font-size="16.8" font-weight="bold">Fam<tspan font-size="12.5" font-weight="normal" dy="-7" dx="-0.8">42</tspan><tspan dy="7" dx="0.8">-Raz</tspan><tspan font-size="12.5" font-weight="normal" dy="-7">94</tspan></text><line x1="838.7" y1="1343.2" x2="838.7" y2="1349.7" stroke-width="2" stroke="#000"/><text transform="translate(844.5,1362) rotate(-45)" text-anchor="end" font-size="16.8" font-weight="bold">Fam<tspan font-size="12.5" font-weight="normal" dy="-7" dx="-0.8">62</tspan><tspan dy="7" dx="0.8">-Raz</tspan><tspan font-size="12.5" font-weight="normal" dy="-7">35</tspan></text><line x1="877.1" y1="1343.2" x2="877.1" y2="1349.7" stroke-width="2" stroke="#000"/><text transform="translate(882.9,1362) rotate(-45)" text-anchor="end" font-size="16.8" font-weight="bold">Fam<tspan font-size="12.5" font-weight="normal" dy="-7" dx="-0.8">62</tspan><tspan dy="7" dx="0.8">-Raz</tspan><tspan font-size="12.5" font-weight="normal" dy="-7">94</tspan></text><line x1="915.6" y1="1343.2" x2="915.6" y2="1349.7" stroke-width="2" stroke="#000"/><text transform="translate(921.4,1362) rotate(-45)" text-anchor="end" font-size="16.8" font-weight="bold">Fam<tspan font-size="12.5" font-weight="normal" dy="-7" dx="-0.8">114</tspan><tspan dy="7" dx="0.8">-Raz</tspan><tspan font-size="12.5" font-weight="normal" dy="-7">35</tspan></text><line x1="954" y1="1343.2" x2="954" y2="1349.7" stroke-width="2" stroke="#000"/><text transform="translate(959.8,1362) rotate(-45)" text-anchor="end" font-size="16.8" font-weight="bold">Fam<tspan font-size="12.5" font-weight="normal" dy="-7" dx="-0.8">123</tspan><tspan dy="7" dx="0.8">-Raz</tspan><tspan font-size="12.5" font-weight="normal" dy="-7">35</tspan></text><line x1="992.5" y1="1343.2" x2="992.5" y2="1349.7" stroke-width="2" stroke="#000"/><text transform="translate(998.3,1362) rotate(-45)" text-anchor="end" font-size="16.8" font-weight="bold">Fam<tspan font-size="12.5" font-weight="normal" dy="-7" dx="-0.8">123</tspan><tspan dy="7" dx="0.8">-Raz</tspan><tspan font-size="12.5" font-weight="normal" dy="-7">94</tspan></text><line x1="1031" y1="1343.2" x2="1031" y2="1349.7" stroke-width="2" stroke="#000"/><text transform="translate(1036.8,1362) rotate(-45)" text-anchor="end" font-size="16.8" font-weight="bold">Fam<tspan font-size="12.5" font-weight="normal" dy="-7" dx="-0.8">136</tspan><tspan dy="7" dx="0.8">-Raz</tspan><tspan font-size="12.5" font-weight="normal" dy="-7">94</tspan></text><text x="896.6" y="1463.8" font-size="17.3" font-weight="bold" text-anchor="middle">Residue Pair</text><text transform="translate(702.9,1236.3) rotate(-90)" text-anchor="middle" font-size="17.5" font-weight="bold">Average Distance (Å)</text><text x="892.7" y="1094.2" font-size="23.6" text-anchor="middle">24 hours</text><line x1="533" y1="1144.6" x2="538" y2="1144.6" stroke-width="2.2" stroke="#000"/><line x1="553.5" y1="1144.6" x2="555.5" y2="1144.6" stroke-width="2.2" stroke="#000"/><circle cx="544.4" cy="1144.6" r="3.6" fill="#000"/><path d="M544.4,1166.7 L548.7,1174.4 L540.1,1174.4Z" fill="#ff0000"/><rect x="540.1" y="1196.7" width="8.6" height="8.6" fill="#00c000"/><path d="M544.4,1235.3 L548.7,1227.6 L540.1,1227.6Z" fill="#9b00f0"/><path d="M544.4,1256 L548.7,1260.3 L544.4,1264.6 L540.1,1260.3Z" fill="#0000ff"/><text x="569" y="1150.5" font-size="16.8">Buffer</text><text x="569" y="1176.9" font-size="16.8">EGCG</text><text x="569" y="1206.9" font-size="16.8">NDGA</text><text x="569" y="1236.9" font-size="16.8">cNDGA</text><text x="569" y="1266.2" font-size="16.8">mNDGA</text><line x1="141" y1="1601.4" x2="502.6" y2="1601.4" stroke-width="1.3" stroke="#000" stroke-dasharray="1.8,1.7"/><polyline points="141,1634.5 146.9,1680.2 154.8,1692.8 160.7,1694.6 166.6,1694.6 173.9,1681.4 181.8,1680.8 185.1,1680.2 190.3,1672.4 198.9,1662.8 206.1,1654.9 216,1643.5 226.5,1635.7 240.3,1626.1 250.8,1619.4 267.9,1615.2 285.6,1613.4 305.4,1612.2 329.7,1611.6 333,1611.9 336.3,1611 339.6,1611.1 342.9,1610.3 346.1,1610 349.4,1611 352.7,1610.8 356,1608.8 359.3,1609.8 362.6,1609.6 365.9,1607.6 369.2,1608.5 372.4,1607.5 375.7,1608 379,1607.4 382.3,1608.1 385.6,1606.8 388.9,1606.1 392.2,1606.5 395.5,1605.8 398.7,1605.7 402,1606.7 405.3,1605 408.6,1605.1 411.9,1605.4 415.2,1605.8 418.5,1603.7 421.8,1604.3 425,1603.5 428.3,1602.9 431.6,1602.9 434.9,1602.2 438.2,1603.1 441.5,1602 444.8,1602.5 448.1,1601.1 451.3,1601 454.6,1602.4 457.9,1602.2 461.2,1602 464.5,1600.4 467.8,1601.5 471.1,1601.1 474.4,1601.8 477.6,1601.4 480.9,1601.6 484.2,1601.7 487.5,1601.2 490.8,1601.2 494.1,1600.5 497.4,1601 500.7,1600.5" fill="none" stroke="#11bb11" stroke-width="2.3" stroke-linejoin="round"/><polyline points="141,1659.7 146.9,1677.2 152.8,1680.8 160.7,1692.8 166.6,1688.6 173.9,1688 181.8,1683.2 188.3,1674.8 198.9,1662.8 206.1,1651.9 212.7,1649.5 219.9,1641.7 231.7,1629.7 245.5,1620.6 256.1,1617 266.6,1614 285.6,1612.8 292.2,1614 298.8,1614.6 304.7,1613.4 311.3,1615.2 318.5,1613.4 329.7,1613.4 333,1612.1 336.3,1611.8 339.6,1613.5 342.9,1613.1 346.1,1611.1 349.4,1611 352.7,1610.9 356,1611.4 359.3,1610.4 362.6,1610.1 365.9,1609.8 369.2,1610.4 372.4,1609.5 375.7,1609.3 379,1608.3 382.3,1607.4 385.6,1607.2 388.9,1607.7 392.2,1607.6 395.5,1607.7 398.7,1607.9 402,1607.6 405.3,1606.3 408.6,1606.3 411.9,1605.9 415.2,1604.5 418.5,1605 421.8,1604.6 425,1605 428.3,1605.1 431.6,1604.1 434.9,1604.2 438.2,1603.1 441.5,1601.8 444.8,1602.1 448.1,1602.9 451.3,1601 454.6,1600.9 457.9,1600.9 461.2,1600.5 464.5,1600.8 467.8,1600.8 471.1,1601.7 474.4,1600.4 477.6,1600.4 480.9,1602.1 484.2,1600.8 487.5,1600.9 490.8,1601.5 494.1,1601.3 497.4,1601.4 500.7,1600.5" fill="none" stroke="#ee1111" stroke-width="2.3" stroke-linejoin="round"/><polyline points="141,1655.5 146.9,1677.2 152.8,1675.4 160.7,1682.6 166.6,1678.4 173.9,1674.8 181.8,1670.6 190.3,1664.6 198.9,1656.7 206.1,1651.3 212.7,1641.1 218.6,1636.9 225.8,1632.1 231.7,1627.3 239,1622.5 247.5,1617.6 258,1614.6 266.6,1612.8 273.8,1612.2 278.4,1610.4 281.7,1611.6 290.9,1610.4 304.7,1609.8 312,1610.1 318.5,1609.2 329.7,1608.6 333,1609.2 336.3,1607.5 339.6,1607.5 342.9,1608.4 346.1,1607.7 349.4,1607.6 352.7,1607 356,1606.5 359.3,1607.8 362.6,1607.8 365.9,1605.8 369.2,1606.5 372.4,1605.6 375.7,1607.1 379,1605.9 382.3,1605.1 385.6,1606 388.9,1604.3 392.2,1604.2 395.5,1605.9 398.7,1605.7 402,1604.4 405.3,1603.4 408.6,1604.4 411.9,1604.6 415.2,1603.9 418.5,1604.6 421.8,1604 425,1603.3 428.3,1603 431.6,1603.4 434.9,1603.2 438.2,1603.1 441.5,1602.3 444.8,1602.5 448.1,1602.9 451.3,1601 454.6,1601.4 457.9,1601.1 461.2,1602.1 464.5,1600.3 467.8,1600.6 471.1,1602.2 474.4,1601.8 477.6,1600.9 480.9,1600.9 484.2,1600.5 487.5,1601.6 490.8,1600.7 494.1,1601 497.4,1601.8 500.7,1601.2" fill="none" stroke="#000" stroke-width="2.3" stroke-linejoin="round"/><polyline points="141,1725.9 146.9,1683.2 154.2,1695.2 160.7,1697 166.6,1701.9 173.9,1700.6 181.8,1690.4 190.3,1678.4 200.8,1667.6 207.4,1659.1 216,1648.9 230.4,1635.7 245.5,1622.5 264.6,1614.6 278.4,1613.4 292.2,1611.6 305.4,1611 329.7,1610.4 333,1610.8 336.3,1610.8 339.6,1609.9 342.9,1610.2 346.1,1610.2 349.4,1609.2 352.7,1607.9 356,1607.9 359.3,1607.7 362.6,1608.7 365.9,1607.8 369.2,1608.1 372.4,1608.1 375.7,1608 379,1607.5 382.3,1605.8 385.6,1605.7 388.9,1605.6 392.2,1605.3 395.5,1606.4 398.7,1605.9 402,1605 405.3,1604.5 408.6,1604 411.9,1603.8 415.2,1605.2 418.5,1603.9 421.8,1603.5 425,1603.6 428.3,1604.1 431.6,1603.2 434.9,1603.8 438.2,1601.8 441.5,1601.7 444.8,1602.1 448.1,1602.4 451.3,1600.9 454.6,1601.4 457.9,1600.6 461.2,1600.6 464.5,1601.4 467.8,1601.6 471.1,1601.2 474.4,1601.5 477.6,1602.1 480.9,1601.8 484.2,1600.7 487.5,1602.4 490.8,1602.4 494.1,1601.1 497.4,1601.9 500.7,1601.3" fill="none" stroke="#1010ee" stroke-width="2.3" stroke-linejoin="round"/><line x1="141" y1="1540.2" x2="141" y2="1782.9" stroke-width="2.3" stroke="#000"/><line x1="140" y1="1781.9" x2="503.6" y2="1781.9" stroke-width="2.3" stroke="#000"/><line x1="133.5" y1="1541.2" x2="141" y2="1541.2" stroke-width="2.3" stroke="#000"/><text x="132.5" y="1547.8" font-size="18.5" font-weight="bold" text-anchor="end">10</text><line x1="133.5" y1="1601.4" x2="141" y2="1601.4" stroke-width="2.3" stroke="#000"/><text x="132.5" y="1608" font-size="18.5" font-weight="bold" text-anchor="end">0</text><line x1="133.5" y1="1661.6" x2="141" y2="1661.6" stroke-width="2.3" stroke="#000"/><text x="132.5" y="1668.2" font-size="18.5" font-weight="bold" text-anchor="end">-10</text><line x1="133.5" y1="1721.7" x2="141" y2="1721.7" stroke-width="2.3" stroke="#000"/><text x="132.5" y="1728.3" font-size="18.5" font-weight="bold" text-anchor="end">-20</text><line x1="133.5" y1="1781.9" x2="141" y2="1781.9" stroke-width="2.3" stroke="#000"/><text x="132.5" y="1788.5" font-size="18.5" font-weight="bold" text-anchor="end">-30</text><line x1="173.9" y1="1781.9" x2="173.9" y2="1788.9" stroke-width="2.3" stroke="#000"/><text x="173.9" y="1808.8" font-size="18.5" font-weight="bold" text-anchor="middle">200</text><line x1="239.6" y1="1781.9" x2="239.6" y2="1785.9" stroke-width="2.3" stroke="#000"/><line x1="305.4" y1="1781.9" x2="305.4" y2="1788.9" stroke-width="2.3" stroke="#000"/><text x="305.4" y="1808.8" font-size="18.5" font-weight="bold" text-anchor="middle">220</text><line x1="371.1" y1="1781.9" x2="371.1" y2="1785.9" stroke-width="2.3" stroke="#000"/><line x1="436.9" y1="1781.9" x2="436.9" y2="1788.9" stroke-width="2.3" stroke="#000"/><text x="436.9" y="1808.8" font-size="18.5" font-weight="bold" text-anchor="middle">240</text><line x1="502.6" y1="1781.9" x2="502.6" y2="1785.9" stroke-width="2.3" stroke="#000"/><text x="321.8" y="1834.5" font-size="19.5" font-weight="bold" text-anchor="middle">W<tspan dx="0.8">a</tspan><tspan dx="0.8">v</tspan><tspan dx="0.8">elength (nm)</tspan></text><text transform="translate(69.5,1662) rotate(-90)" text-anchor="middle" font-size="19.5" font-weight="bold">Molar Ellipticity</text><text transform="translate(98.5,1662) rotate(-90)" text-anchor="middle" font-size="19.5" font-weight="bold">(deg cm<tspan font-size="12.1" dy="-8.2">2</tspan><tspan dy="8.2"> dmol</tspan><tspan font-size="12.1" dy="-8.2">-1</tspan><tspan dy="8.2">) x 10</tspan><tspan font-size="12.1" dy="-8.2">3</tspan></text><text x="309.2" y="1546.5" font-size="22.5" text-anchor="middle">PBS</text><line x1="525.8" y1="1557.8" x2="555.3" y2="1557.8" stroke-width="2.3" stroke="#000"/><text x="568.7" y="1564.6" font-size="19">Control</text><line x1="525.8" y1="1585.5" x2="555.3" y2="1585.5" stroke-width="2.3" stroke="#ee1111"/><text x="568.7" y="1592.3" font-size="19">EGCG</text><line x1="525.8" y1="1613.3" x2="555.3" y2="1613.3" stroke-width="2.3" stroke="#11bb11"/><text x="568.7" y="1620.1" font-size="19">NDGA</text><line x1="525.8" y1="1641" x2="555.3" y2="1641" stroke-width="2.3" stroke="#1010ee"/><text x="568.7" y="1647.8" font-size="19">mNDGA</text><text x="59.5" y="1511.5" font-size="22.5">F</text><line x1="742" y1="1685.9" x2="1089" y2="1685.9" stroke-width="1.3" stroke="#000" stroke-dasharray="1.8,1.7"/><polyline points="742,1586.7 753.4,1611.7 760.9,1641.9 767.2,1661.8 776.1,1696.1 783.6,1721.1 791.8,1741.5 801.9,1752.7 812.7,1759.6 817.7,1761.5 824,1761.9 830.3,1758.2 844.2,1752.7 858.1,1744.8 871.4,1743.9 885.2,1745.7 903.5,1748 914.9,1745.7 926.3,1742.9 937.6,1737.8 949,1730.9 960.3,1722.1 971.7,1713.3 981.8,1707.2 994.4,1701.2 1005.8,1697 1017.1,1694.2 1028.5,1691.9 1039.8,1689.6 1054.3,1687.8 1067,1685.9 1078.3,1687.3 1089,1687.3" fill="none" stroke="#000" stroke-width="2.3" stroke-linejoin="round"/><polyline points="742,1598.3 746.4,1600.6 751.5,1609.4 757.8,1629.8 763.5,1648.8 769.1,1671.1 774.8,1688.2 780.5,1702.6 787.4,1714.6 794.4,1725.3 800.7,1733.2 807.6,1739.2 815.8,1742.9 824,1744.8 830.3,1742.5 835.4,1741.5 844.2,1736.9 853.7,1732.3 861.9,1733.7 869.5,1731.3 876.4,1732.3 885.2,1731.3 893.4,1732.7 903.5,1732.3 914.9,1730.9 926.3,1727.6 937.6,1723.9 949,1718.8 960.3,1713.3 971.7,1704.9 983,1701.2 994.4,1696.1 1005.8,1691.9 1017.1,1686.8 1028.5,1685.4 1039.8,1683.6 1051.2,1682.7 1060.7,1682.2 1067,1679.9 1076.4,1679.4 1082.7,1681.7 1089,1680.8" fill="none" stroke="#ee1111" stroke-width="2.3" stroke-linejoin="round"/><polyline points="742,1570.9 748.9,1589 755.9,1614 762.2,1648.3 769.1,1675.2 776.1,1702.6 784.9,1725.3 794.4,1743.9 803.2,1759.6 812.7,1766.6 819.6,1771.2 824,1773.1 830.3,1770.7 836.6,1765.6 844.2,1761.9 852.4,1759.6 862.5,1756.4 870.1,1756.8 876.4,1752.7 885.2,1756.4 893.4,1755.4 903.5,1754 915.5,1753.1 926.3,1750.3 937.6,1745.2 949,1736.9 959.7,1728.6 971.7,1714.2 981.8,1708.6 994.4,1702.6 1005.8,1698 1017.1,1693.8 1029.1,1691.5 1039.8,1689.1 1051.2,1688.7 1062.5,1688.2 1073.3,1686.4 1082.7,1687.8 1089,1686.8" fill="none" stroke="#1010ee" stroke-width="2.3" stroke-linejoin="round"/><polyline points="742,1582.1 753.4,1607.1 760.9,1639.5 767.2,1666.4 776.1,1698 783.6,1720.7 791.8,1739.2 801.9,1750.8 812.7,1759.6 817.7,1761.9 824,1764.2 830.3,1760.1 835.4,1755 846.1,1750.8 858.1,1745.7 868.2,1745.2 876.4,1745.7 890.3,1746.6 903.5,1747.1 914.9,1744.3 926.3,1741.5 937.6,1736 949,1729 960.3,1721.1 971.7,1711.9 981.8,1706.3 994.4,1700.3 1005.8,1696.6 1017.1,1693.8 1028.5,1691.5 1039.8,1689.1 1054.3,1687.3 1067,1685.4 1078.3,1686.8 1089,1686.8" fill="none" stroke="#11bb11" stroke-width="2.3" stroke-linejoin="round"/><line x1="742" y1="1545.8" x2="742" y2="1779.6" stroke-width="2.3" stroke="#000"/><line x1="741" y1="1778.6" x2="1090" y2="1778.6" stroke-width="2.3" stroke="#000"/><line x1="734.5" y1="1546.8" x2="742" y2="1546.8" stroke-width="2.3" stroke="#000"/><text x="733.5" y="1552.4" font-size="16" font-weight="bold" text-anchor="end">30</text><line x1="734.5" y1="1593.2" x2="742" y2="1593.2" stroke-width="2.3" stroke="#000"/><text x="733.5" y="1598.8" font-size="16" font-weight="bold" text-anchor="end">20</text><line x1="734.5" y1="1639.5" x2="742" y2="1639.5" stroke-width="2.3" stroke="#000"/><text x="733.5" y="1645.1" font-size="16" font-weight="bold" text-anchor="end">10</text><line x1="734.5" y1="1685.9" x2="742" y2="1685.9" stroke-width="2.3" stroke="#000"/><text x="733.5" y="1691.5" font-size="16" font-weight="bold" text-anchor="end">0</text><line x1="734.5" y1="1732.3" x2="742" y2="1732.3" stroke-width="2.3" stroke="#000"/><text x="733.5" y="1737.9" font-size="16" font-weight="bold" text-anchor="end">-10</text><line x1="734.5" y1="1778.6" x2="742" y2="1778.6" stroke-width="2.3" stroke="#000"/><text x="733.5" y="1784.2" font-size="16" font-weight="bold" text-anchor="end">-20</text><line x1="773.5" y1="1778.6" x2="773.5" y2="1785.1" stroke-width="2.3" stroke="#000"/><text x="773.5" y="1803.8" font-size="16" font-weight="bold" text-anchor="middle">200</text><line x1="836.6" y1="1778.6" x2="836.6" y2="1782.1" stroke-width="2.3" stroke="#000"/><line x1="899.8" y1="1778.6" x2="899.8" y2="1785.1" stroke-width="2.3" stroke="#000"/><text x="899.8" y="1803.8" font-size="16" font-weight="bold" text-anchor="middle">220</text><line x1="962.9" y1="1778.6" x2="962.9" y2="1782.1" stroke-width="2.3" stroke="#000"/><line x1="1026" y1="1778.6" x2="1026" y2="1785.1" stroke-width="2.3" stroke="#000"/><text x="1026" y="1803.8" font-size="16" font-weight="bold" text-anchor="middle">240</text><line x1="1089" y1="1778.6" x2="1089" y2="1782.1" stroke-width="2.3" stroke="#000"/><text x="915.5" y="1827.8" font-size="19" font-weight="bold" text-anchor="middle">W<tspan dx="0.8">a</tspan><tspan dx="0.8">v</tspan><tspan dx="0.8">elength (nm)</tspan></text><text transform="translate(674.5,1662) rotate(-90)" text-anchor="middle" font-size="19" font-weight="bold">Molar Ellipticity</text><text transform="translate(698.5,1662) rotate(-90)" text-anchor="middle" font-size="19" font-weight="bold">(deg cm<tspan font-size="11.8" dy="-8">2</tspan><tspan dy="8"> dmol</tspan><tspan font-size="11.8" dy="-8">-1</tspan><tspan dy="8">) x 10</tspan><tspan font-size="11.8" dy="-8">3</tspan></text><text x="908.5" y="1547.3" font-size="24" text-anchor="middle">PBS + SDS Micelles</text><text x="638.5" y="1510.8" font-size="22.5">G</text><polyline points="126.2,2247.5 126.2,2247.4 126.2,2247 126.2,2246.2 126.3,2245.1 126.3,2243.5 126.4,2241.6 126.4,2239.3 126.5,2236.6 126.6,2233.5 126.7,2230.1 126.8,2226.3 126.9,2222.2 127.1,2217.8 127.2,2213.1 127.4,2208.2 127.6,2203.1 127.8,2197.8 128,2192.4 128.2,2186.8 128.5,2181.2 128.7,2175.4 129,2169.7 129.3,2163.9 129.6,2158.1 129.9,2152.3 130.3,2146.6 130.6,2141 131,2135.4 131.4,2129.9 131.8,2124.5 132.2,2119.2 132.6,2114 133.1,2108.9 133.6,2104 134,2099.2 134.5,2094.5 135.1,2089.9 135.6,2085.5 136.1,2081.2 136.7,2077 137.3,2073 137.9,2069.1 138.5,2065.3 139.2,2061.7 139.8,2058.2 140.5,2054.8 141.2,2051.5 141.9,2048.3 142.6,2045.2 143.4,2042.3 144.2,2039.4 144.9,2036.7 145.7,2034 146.6,2031.4 147.4,2029 148.3,2026.6 149.1,2024.3 150,2022.1 150.9,2019.9 151.9,2017.8 152.8,2015.8 153.8,2013.9 154.8,2012.1 155.8,2010.3 156.8,2008.5 157.9,2006.9 158.9,2005.3 160,2003.7 161.1,2002.2 162.2,2000.7 163.4,1999.3 164.5,1998 165.7,1996.6 166.9,1995.4 168.1,1994.1 169.4,1993 170.6,1991.8 171.9,1990.7 173.2,1989.6 174.5,1988.6 175.9,1987.6 177.2,1986.6 178.6,1985.6 180,1984.7 181.4,1983.8 182.9,1982.9 184.3,1982.1 185.8,1981.3 187.3,1980.5 188.8,1979.7 190.4,1979 191.9,1978.3 193.5,1977.6 195.1,1976.9 196.7,1976.2 198.4,1975.6 200.1,1975 201.7,1974.4 203.4,1973.8 205.2,1973.2 206.9,1972.6 208.7,1972.1 210.5,1971.6 212.3,1971.1 214.1,1970.6 216,1970.1 217.8,1969.6 219.7,1969.1 221.7,1968.7 223.6,1968.3 225.6,1967.8 227.5,1967.4 229.5,1967 231.6,1966.6 233.6,1966.2 235.7,1965.9 237.8,1965.5 239.9,1965.1 242,1964.8 244.1,1964.4 246.3,1964.1 248.5,1963.8 250.7,1963.5 253,1963.2 255.2,1962.9 257.5,1962.6 259.8,1962.3 262.1,1962 264.5,1961.7 266.9,1961.5 269.2,1961.2 271.7,1960.9 274.1,1960.7 276.5,1960.4 279,1960.2 281.5,1960 284.1,1959.7 286.6,1959.5 289.2,1959.3 291.8,1959.1 294.4,1958.9 297,1958.7 299.7,1958.5 302.3,1958.3 305,1958.1 307.8,1957.9 310.5,1957.7 313.3,1957.5 316.1,1957.3 318.9,1957.2 321.7,1957 324.6,1956.8 327.5,1956.7 330.4,1956.5 333.3,1956.3 336.3,1956.2 339.2,1956 342.2,1955.9 345.2,1955.7 348.3,1955.6 351.4,1955.4 354.4,1955.3 357.6,1955.2 360.7,1955 363.8,1954.9 367,1954.8 370.2,1954.7 373.5,1954.5 376.7,1954.4 380,1954.3 383.3,1954.2 386.6,1954.1 389.9,1953.9 393.3,1953.8 396.7,1953.7 400.1,1953.6 403.5,1953.5 407,1953.4 410.5,1953.3 414,1953.2 417.5,1953.1 421.1,1953 424.6,1952.9 428.2,1952.8 431.9,1952.7 435.5,1952.6 439.2,1952.6 442.9,1952.5 446.6,1952.4 450.3,1952.3 454.1,1952.2 457.9,1952.1 461.7,1952.1 465.5,1952 469.4,1951.9 473.3,1951.8 477.2,1951.7 481.1,1951.7 485.1,1951.6" fill="none" stroke="#0a0ae6" stroke-width="4.2" stroke-linejoin="round"/><polyline points="126.2,2247.5 126.2,2247.3 126.2,2246.8 126.2,2245.8 126.3,2244.4 126.3,2242.4 126.4,2239.9 126.4,2237 126.5,2233.6 126.6,2229.7 126.7,2225.4 126.8,2220.7 126.9,2215.6 127.1,2210.2 127.2,2204.6 127.4,2198.7 127.6,2192.6 127.8,2186.4 128,2180 128.2,2173.6 128.5,2167.1 128.7,2160.6 129,2154.2 129.3,2147.8 129.6,2141.4 129.9,2135.2 130.3,2129.1 130.6,2123.1 131,2117.2 131.4,2111.5 131.8,2105.9 132.2,2100.5 132.6,2095.3 133.1,2090.2 133.6,2085.3 134,2080.5 134.5,2076 135.1,2071.5 135.6,2067.3 136.1,2063.2 136.7,2059.2 137.3,2055.5 137.9,2051.8 138.5,2048.3 139.2,2045 139.8,2041.7 140.5,2038.6 141.2,2035.6 141.9,2032.8 142.6,2030 143.4,2027.4 144.2,2024.8 144.9,2022.4 145.7,2020.1 146.6,2017.8 147.4,2015.7 148.3,2013.6 149.1,2011.6 150,2009.7 150.9,2007.8 151.9,2006.1 152.8,2004.4 153.8,2002.7 154.8,2001.2 155.8,1999.6 156.8,1998.2 157.9,1996.8 158.9,1995.4 160,1994.1 161.1,1992.8 162.2,1991.6 163.4,1990.5 164.5,1989.3 165.7,1988.2 166.9,1987.2 168.1,1986.2 169.4,1985.2 170.6,1984.3 171.9,1983.3 173.2,1982.5 174.5,1981.6 175.9,1980.8 177.2,1980 178.6,1979.2 180,1978.5 181.4,1977.7 182.9,1977 184.3,1976.4 185.8,1975.7 187.3,1975.1 188.8,1974.5 190.4,1973.9 191.9,1973.3 193.5,1972.7 195.1,1972.2 196.7,1971.6 198.4,1971.1 200.1,1970.6 201.7,1970.2 203.4,1969.7 205.2,1969.2 206.9,1968.8 208.7,1968.4 210.5,1967.9 212.3,1967.5 214.1,1967.1 216,1966.7 217.8,1966.4 219.7,1966 221.7,1965.6 223.6,1965.3 225.6,1965 227.5,1964.6 229.5,1964.3 231.6,1964 233.6,1963.7 235.7,1963.4 237.8,1963.1 239.9,1962.8 242,1962.6 244.1,1962.3 246.3,1962 248.5,1961.8 250.7,1961.5 253,1961.3 255.2,1961.1 257.5,1960.8 259.8,1960.6 262.1,1960.4 264.5,1960.2 266.9,1960 269.2,1959.8 271.7,1959.6 274.1,1959.4 276.5,1959.2 279,1959 281.5,1958.8 284.1,1958.6 286.6,1958.4 289.2,1958.3 291.8,1958.1 294.4,1957.9 297,1957.8 299.7,1957.6 302.3,1957.5 305,1957.3 307.8,1957.2 310.5,1957 313.3,1956.9 316.1,1956.7 318.9,1956.6 321.7,1956.5 324.6,1956.3 327.5,1956.2 330.4,1956.1 333.3,1956 336.3,1955.9 339.2,1955.7 342.2,1955.6 345.2,1955.5 348.3,1955.4 351.4,1955.3 354.4,1955.2 357.6,1955.1 360.7,1955 363.8,1954.9 367,1954.8 370.2,1954.7 373.5,1954.6 376.7,1954.5 380,1954.4 383.3,1954.3 386.6,1954.2 389.9,1954.1 393.3,1954 396.7,1954 400.1,1953.9 403.5,1953.8 407,1953.7 410.5,1953.6 414,1953.6 417.5,1953.5 421.1,1953.4 424.6,1953.3 428.2,1953.3 431.9,1953.2 435.5,1953.1 439.2,1953 442.9,1953 446.6,1952.9 450.3,1952.8 454.1,1952.8 457.9,1952.7 461.7,1952.7 465.5,1952.6 469.4,1952.5 473.3,1952.5 477.2,1952.4 481.1,1952.4 485.1,1952.3" fill="none" stroke="#7d4e9e" stroke-width="4.2" stroke-linejoin="round"/><polyline points="126.2,2247.5 126.2,2247.3 126.2,2246.5 126.2,2245.2 126.3,2243.2 126.3,2240.5 126.4,2237.1 126.4,2233.2 126.5,2228.6 126.6,2223.5 126.7,2217.8 126.8,2211.7 126.9,2205.3 127.1,2198.5 127.2,2191.5 127.4,2184.3 127.6,2176.9 127.8,2169.5 128,2162.1 128.2,2154.7 128.5,2147.4 128.7,2140.2 129,2133.1 129.3,2126.2 129.6,2119.5 129.9,2113 130.3,2106.7 130.6,2100.6 131,2094.7 131.4,2089 131.8,2083.6 132.2,2078.4 132.6,2073.4 133.1,2068.6 133.6,2064.1 134,2059.7 134.5,2055.5 135.1,2051.5 135.6,2047.8 136.1,2044.1 136.7,2040.7 137.3,2037.4 137.9,2034.2 138.5,2031.2 139.2,2028.4 139.8,2025.6 140.5,2023 141.2,2020.6 141.9,2018.2 142.6,2015.9 143.4,2013.8 144.2,2011.7 144.9,2009.7 145.7,2007.9 146.6,2006.1 147.4,2004.3 148.3,2002.7 149.1,2001.1 150,1999.6 150.9,1998.2 151.9,1996.8 152.8,1995.4 153.8,1994.2 154.8,1993 155.8,1991.8 156.8,1990.7 157.9,1989.6 158.9,1988.5 160,1987.6 161.1,1986.6 162.2,1985.7 163.4,1984.8 164.5,1983.9 165.7,1983.1 166.9,1982.3 168.1,1981.6 169.4,1980.8 170.6,1980.1 171.9,1979.5 173.2,1978.8 174.5,1978.2 175.9,1977.5 177.2,1977 178.6,1976.4 180,1975.8 181.4,1975.3 182.9,1974.8 184.3,1974.3 185.8,1973.8 187.3,1973.3 188.8,1972.9 190.4,1972.5 191.9,1972 193.5,1971.6 195.1,1971.2 196.7,1970.8 198.4,1970.5 200.1,1970.1 201.7,1969.7 203.4,1969.4 205.2,1969.1 206.9,1968.8 208.7,1968.4 210.5,1968.1 212.3,1967.8 214.1,1967.6 216,1967.3 217.8,1967 219.7,1966.8 221.7,1966.5 223.6,1966.2 225.6,1966 227.5,1965.8 229.5,1965.5 231.6,1965.3 233.6,1965.1 235.7,1964.9 237.8,1964.7 239.9,1964.5 242,1964.3 244.1,1964.1 246.3,1963.9 248.5,1963.7 250.7,1963.6 253,1963.4 255.2,1963.2 257.5,1963 259.8,1962.9 262.1,1962.7 264.5,1962.6 266.9,1962.4 269.2,1962.3 271.7,1962.1 274.1,1962 276.5,1961.9 279,1961.7 281.5,1961.6 284.1,1961.5 286.6,1961.4 289.2,1961.2 291.8,1961.1 294.4,1961 297,1960.9 299.7,1960.8 302.3,1960.7 305,1960.6 307.8,1960.4 310.5,1960.3 313.3,1960.2 316.1,1960.1 318.9,1960.1 321.7,1960 324.6,1959.9 327.5,1959.8 330.4,1959.7 333.3,1959.6 336.3,1959.5 339.2,1959.4 342.2,1959.4 345.2,1959.3 348.3,1959.2 351.4,1959.1 354.4,1959 357.6,1959 360.7,1958.9 363.8,1958.8 367,1958.8 370.2,1958.7 373.5,1958.6 376.7,1958.6 380,1958.5 383.3,1958.4 386.6,1958.4 389.9,1958.3 393.3,1958.2 396.7,1958.2 400.1,1958.1 403.5,1958.1 407,1958 410.5,1958 414,1957.9 417.5,1957.8 421.1,1957.8 424.6,1957.7 428.2,1957.7 431.9,1957.6 435.5,1957.6 439.2,1957.5 442.9,1957.5 446.6,1957.5 450.3,1957.4 454.1,1957.4 457.9,1957.3 461.7,1957.3 465.5,1957.2 469.4,1957.2 473.3,1957.1 477.2,1957.1 481.1,1957.1 485.1,1957" fill="none" stroke="#00c800" stroke-width="4.2" stroke-linejoin="round"/><polyline points="126.2,2247.5 126.2,2247.3 126.2,2246.8 126.2,2245.7 126.3,2244.1 126.3,2242 126.4,2239.4 126.4,2236.3 126.5,2232.6 126.6,2228.5 126.7,2223.9 126.8,2219 126.9,2213.6 127.1,2208 127.2,2202 127.4,2195.8 127.6,2189.5 127.8,2183 128,2176.4 128.2,2169.7 128.5,2163 128.7,2156.3 129,2149.7 129.3,2143.1 129.6,2136.7 129.9,2130.3 130.3,2124.1 130.6,2118 131,2112 131.4,2106.3 131.8,2100.7 132.2,2095.2 132.6,2090 133.1,2084.9 133.6,2080 134,2075.3 134.5,2070.7 135.1,2066.3 135.6,2062.1 136.1,2058.1 136.7,2054.2 137.3,2050.5 137.9,2046.9 138.5,2043.5 139.2,2040.2 139.8,2037 140.5,2034 141.2,2031 141.9,2028.3 142.6,2025.6 143.4,2023 144.2,2020.5 144.9,2018.2 145.7,2015.9 146.6,2013.7 147.4,2011.6 148.3,2009.6 149.1,2007.7 150,2005.9 150.9,2004.1 151.9,2002.4 152.8,2000.7 153.8,1999.2 154.8,1997.6 155.8,1996.2 156.8,1994.8 157.9,1993.4 158.9,1992.1 160,1990.9 161.1,1989.7 162.2,1988.5 163.4,1987.4 164.5,1986.3 165.7,1985.3 166.9,1984.3 168.1,1983.3 169.4,1982.4 170.6,1981.5 171.9,1980.6 173.2,1979.7 174.5,1978.9 175.9,1978.1 177.2,1977.4 178.6,1976.6 180,1975.9 181.4,1975.2 182.9,1974.6 184.3,1973.9 185.8,1973.3 187.3,1972.7 188.8,1972.1 190.4,1971.5 191.9,1971 193.5,1970.5 195.1,1969.9 196.7,1969.4 198.4,1969 200.1,1968.5 201.7,1968 203.4,1967.6 205.2,1967.1 206.9,1966.7 208.7,1966.3 210.5,1965.9 212.3,1965.5 214.1,1965.2 216,1964.8 217.8,1964.4 219.7,1964.1 221.7,1963.8 223.6,1963.4 225.6,1963.1 227.5,1962.8 229.5,1962.5 231.6,1962.2 233.6,1961.9 235.7,1961.6 237.8,1961.4 239.9,1961.1 242,1960.8 244.1,1960.6 246.3,1960.3 248.5,1960.1 250.7,1959.9 253,1959.6 255.2,1959.4 257.5,1959.2 259.8,1959 262.1,1958.8 264.5,1958.6 266.9,1958.4 269.2,1958.2 271.7,1958 274.1,1957.8 276.5,1957.6 279,1957.4 281.5,1957.3 284.1,1957.1 286.6,1956.9 289.2,1956.8 291.8,1956.6 294.4,1956.5 297,1956.3 299.7,1956.2 302.3,1956 305,1955.9 307.8,1955.7 310.5,1955.6 313.3,1955.5 316.1,1955.3 318.9,1955.2 321.7,1955.1 324.6,1955 327.5,1954.8 330.4,1954.7 333.3,1954.6 336.3,1954.5 339.2,1954.4 342.2,1954.3 345.2,1954.2 348.3,1954.1 351.4,1954 354.4,1953.9 357.6,1953.8 360.7,1953.7 363.8,1953.6 367,1953.5 370.2,1953.4 373.5,1953.3 376.7,1953.2 380,1953.1 383.3,1953 386.6,1952.9 389.9,1952.9 393.3,1952.8 396.7,1952.7 400.1,1952.6 403.5,1952.5 407,1952.5 410.5,1952.4 414,1952.3 417.5,1952.2 421.1,1952.2 424.6,1952.1 428.2,1952 431.9,1952 435.5,1951.9 439.2,1951.8 442.9,1951.8 446.6,1951.7 450.3,1951.7 454.1,1951.6 457.9,1951.5 461.7,1951.5 465.5,1951.4 469.4,1951.4 473.3,1951.3 477.2,1951.3 481.1,1951.2 485.1,1951.1" fill="none" stroke="#000" stroke-width="4.2" stroke-linejoin="round"/><line x1="127.2" y1="2190.4" x2="127.2" y2="2207.5" stroke-width="1.8" stroke="#00c800"/><line x1="123.7" y1="2190.4" x2="130.7" y2="2190.4" stroke-width="1.8" stroke="#00c800"/><line x1="123.7" y1="2207.5" x2="130.7" y2="2207.5" stroke-width="1.8" stroke="#00c800"/><circle cx="127.2" cy="2199" r="4" fill="#00c800"/><line x1="127.8" y1="2181.8" x2="127.8" y2="2199" stroke-width="1.8" stroke="#00c800"/><line x1="124.3" y1="2181.8" x2="131.3" y2="2181.8" stroke-width="1.8" stroke="#00c800"/><line x1="124.3" y1="2199" x2="131.3" y2="2199" stroke-width="1.8" stroke="#00c800"/><circle cx="127.8" cy="2190.4" r="4" fill="#00c800"/><line x1="129.5" y1="2070.5" x2="129.5" y2="2173.3" stroke-width="1.8" stroke="#00c800"/><line x1="126" y1="2070.5" x2="133" y2="2070.5" stroke-width="1.8" stroke="#00c800"/><line x1="126" y1="2173.3" x2="133" y2="2173.3" stroke-width="1.8" stroke="#00c800"/><circle cx="129.5" cy="2121.9" r="4" fill="#00c800"/><line x1="143.2" y1="1971.1" x2="143.2" y2="1973.4" stroke-width="1.8" stroke="#00c800"/><line x1="139.7" y1="1971.1" x2="146.7" y2="1971.1" stroke-width="1.8" stroke="#00c800"/><line x1="139.7" y1="1973.4" x2="146.7" y2="1973.4" stroke-width="1.8" stroke="#00c800"/><circle cx="143.2" cy="1972.3" r="4" fill="#00c800"/><line x1="161.4" y1="1965.4" x2="161.4" y2="1970" stroke-width="1.8" stroke="#00c800"/><line x1="157.9" y1="1965.4" x2="164.9" y2="1965.4" stroke-width="1.8" stroke="#00c800"/><line x1="157.9" y1="1970" x2="164.9" y2="1970" stroke-width="1.8" stroke="#00c800"/><circle cx="161.4" cy="1967.7" r="4" fill="#00c800"/><line x1="305" y1="1970.6" x2="305" y2="1979.1" stroke-width="1.8" stroke="#00c800"/><line x1="301.5" y1="1970.6" x2="308.5" y2="1970.6" stroke-width="1.8" stroke="#00c800"/><line x1="301.5" y1="1979.1" x2="308.5" y2="1979.1" stroke-width="1.8" stroke="#00c800"/><circle cx="305" cy="1974.8" r="4" fill="#00c800"/><line x1="485.1" y1="1980.6" x2="485.1" y2="1997.7" stroke-width="1.8" stroke="#00c800"/><line x1="481.6" y1="1980.6" x2="488.6" y2="1980.6" stroke-width="1.8" stroke="#00c800"/><line x1="481.6" y1="1997.7" x2="488.6" y2="1997.7" stroke-width="1.8" stroke="#00c800"/><circle cx="485.1" cy="1989.1" r="4" fill="#00c800"/><line x1="127.5" y1="2213.2" x2="127.5" y2="2221.8" stroke-width="1.8" stroke="#7d4e9e"/><line x1="124" y1="2213.2" x2="131" y2="2213.2" stroke-width="1.8" stroke="#7d4e9e"/><line x1="124" y1="2221.8" x2="131" y2="2221.8" stroke-width="1.8" stroke="#7d4e9e"/><rect x="123" y="2213.7" width="9" height="7.6" rx="1.5" fill="#7d4e9e"/><line x1="129.5" y1="2139" x2="129.5" y2="2150.4" stroke-width="1.8" stroke="#7d4e9e"/><line x1="126" y1="2139" x2="133" y2="2139" stroke-width="1.8" stroke="#7d4e9e"/><line x1="126" y1="2150.4" x2="133" y2="2150.4" stroke-width="1.8" stroke="#7d4e9e"/><rect x="125" y="2140.9" width="9" height="7.6" rx="1.5" fill="#7d4e9e"/><line x1="143.2" y1="1980.6" x2="143.2" y2="1992" stroke-width="1.8" stroke="#7d4e9e"/><line x1="139.7" y1="1980.6" x2="146.7" y2="1980.6" stroke-width="1.8" stroke="#7d4e9e"/><line x1="139.7" y1="1992" x2="146.7" y2="1992" stroke-width="1.8" stroke="#7d4e9e"/><rect x="138.7" y="1982.5" width="9" height="7.6" rx="1.5" fill="#7d4e9e"/><line x1="161.4" y1="1967.1" x2="161.4" y2="1974" stroke-width="1.8" stroke="#7d4e9e"/><line x1="157.9" y1="1967.1" x2="164.9" y2="1967.1" stroke-width="1.8" stroke="#7d4e9e"/><line x1="157.9" y1="1974" x2="164.9" y2="1974" stroke-width="1.8" stroke="#7d4e9e"/><rect x="156.9" y="1966.8" width="9" height="7.6" rx="1.5" fill="#7d4e9e"/><line x1="305" y1="1969.7" x2="305" y2="1974.3" stroke-width="1.8" stroke="#7d4e9e"/><line x1="301.5" y1="1969.7" x2="308.5" y2="1969.7" stroke-width="1.8" stroke="#7d4e9e"/><line x1="301.5" y1="1974.3" x2="308.5" y2="1974.3" stroke-width="1.8" stroke="#7d4e9e"/><rect x="300.5" y="1968.2" width="9" height="7.6" rx="1.5" fill="#7d4e9e"/><line x1="485.1" y1="1977.7" x2="485.1" y2="1989.1" stroke-width="1.8" stroke="#7d4e9e"/><line x1="481.6" y1="1977.7" x2="488.6" y2="1977.7" stroke-width="1.8" stroke="#7d4e9e"/><line x1="481.6" y1="1989.1" x2="488.6" y2="1989.1" stroke-width="1.8" stroke="#7d4e9e"/><rect x="480.6" y="1979.6" width="9" height="7.6" rx="1.5" fill="#7d4e9e"/><line x1="127.5" y1="2217.5" x2="127.5" y2="2223.2" stroke-width="1.8" stroke="#0a0ae6"/><line x1="124" y1="2217.5" x2="131" y2="2217.5" stroke-width="1.8" stroke="#0a0ae6"/><line x1="124" y1="2223.2" x2="131" y2="2223.2" stroke-width="1.8" stroke="#0a0ae6"/><path d="M127.5,2216.8 L130.9,2220.4 L127.5,2224 L124.1,2220.4Z" fill="#0a0ae6"/><line x1="129.5" y1="2150.4" x2="129.5" y2="2179" stroke-width="1.8" stroke="#0a0ae6"/><line x1="126" y1="2150.4" x2="133" y2="2150.4" stroke-width="1.8" stroke="#0a0ae6"/><line x1="126" y1="2179" x2="133" y2="2179" stroke-width="1.8" stroke="#0a0ae6"/><path d="M129.5,2161.1 L132.9,2164.7 L129.5,2168.3 L126.1,2164.7Z" fill="#0a0ae6"/><line x1="143.2" y1="1990.5" x2="143.2" y2="2041.9" stroke-width="1.8" stroke="#0a0ae6"/><line x1="139.7" y1="1990.5" x2="146.7" y2="1990.5" stroke-width="1.8" stroke="#0a0ae6"/><line x1="139.7" y1="2041.9" x2="146.7" y2="2041.9" stroke-width="1.8" stroke="#0a0ae6"/><path d="M143.2,2012.6 L146.6,2016.2 L143.2,2019.8 L139.8,2016.2Z" fill="#0a0ae6"/><line x1="161.4" y1="1963.4" x2="161.4" y2="1974.8" stroke-width="1.8" stroke="#0a0ae6"/><line x1="157.9" y1="1963.4" x2="164.9" y2="1963.4" stroke-width="1.8" stroke="#0a0ae6"/><line x1="157.9" y1="1974.8" x2="164.9" y2="1974.8" stroke-width="1.8" stroke="#0a0ae6"/><path d="M161.4,1965.5 L164.8,1969.1 L161.4,1972.7 L158,1969.1Z" fill="#0a0ae6"/><line x1="305" y1="1969.7" x2="305" y2="1972.6" stroke-width="1.8" stroke="#0a0ae6"/><line x1="301.5" y1="1969.7" x2="308.5" y2="1969.7" stroke-width="1.8" stroke="#0a0ae6"/><line x1="301.5" y1="1972.6" x2="308.5" y2="1972.6" stroke-width="1.8" stroke="#0a0ae6"/><path d="M305,1967.5 L308.4,1971.1 L305,1974.7 L301.6,1971.1Z" fill="#0a0ae6"/><line x1="485.1" y1="1972" x2="485.1" y2="1977.7" stroke-width="1.8" stroke="#0a0ae6"/><line x1="481.6" y1="1972" x2="488.6" y2="1972" stroke-width="1.8" stroke="#0a0ae6"/><line x1="481.6" y1="1977.7" x2="488.6" y2="1977.7" stroke-width="1.8" stroke="#0a0ae6"/><path d="M485.1,1971.2 L488.5,1974.8 L485.1,1978.4 L481.7,1974.8Z" fill="#0a0ae6"/><line x1="127.2" y1="2190.4" x2="127.2" y2="2207.5" stroke-width="1.8" stroke="#000"/><line x1="123.7" y1="2190.4" x2="130.7" y2="2190.4" stroke-width="1.8" stroke="#000"/><line x1="123.7" y1="2207.5" x2="130.7" y2="2207.5" stroke-width="1.8" stroke="#000"/><circle cx="127.2" cy="2199" r="2.9" fill="#000"/><line x1="128.2" y1="2176.1" x2="128.2" y2="2193.3" stroke-width="1.8" stroke="#000"/><line x1="124.7" y1="2176.1" x2="131.7" y2="2176.1" stroke-width="1.8" stroke="#000"/><line x1="124.7" y1="2193.3" x2="131.7" y2="2193.3" stroke-width="1.8" stroke="#000"/><circle cx="128.2" cy="2184.7" r="2.9" fill="#000"/><line x1="129.5" y1="2134.7" x2="129.5" y2="2171.8" stroke-width="1.8" stroke="#000"/><line x1="126" y1="2134.7" x2="133" y2="2134.7" stroke-width="1.8" stroke="#000"/><line x1="126" y1="2171.8" x2="133" y2="2171.8" stroke-width="1.8" stroke="#000"/><circle cx="129.5" cy="2153.3" r="2.9" fill="#000"/><line x1="143.2" y1="1986.3" x2="143.2" y2="2003.4" stroke-width="1.8" stroke="#000"/><line x1="139.7" y1="1986.3" x2="146.7" y2="1986.3" stroke-width="1.8" stroke="#000"/><line x1="139.7" y1="2003.4" x2="146.7" y2="2003.4" stroke-width="1.8" stroke="#000"/><circle cx="143.2" cy="1994.8" r="2.9" fill="#000"/><line x1="161.4" y1="1962.6" x2="161.4" y2="1967.1" stroke-width="1.8" stroke="#000"/><line x1="157.9" y1="1962.6" x2="164.9" y2="1962.6" stroke-width="1.8" stroke="#000"/><line x1="157.9" y1="1967.1" x2="164.9" y2="1967.1" stroke-width="1.8" stroke="#000"/><circle cx="161.4" cy="1964.9" r="2.9" fill="#000"/><line x1="305" y1="1967.4" x2="305" y2="1970.9" stroke-width="1.8" stroke="#000"/><line x1="301.5" y1="1967.4" x2="308.5" y2="1967.4" stroke-width="1.8" stroke="#000"/><line x1="301.5" y1="1970.9" x2="308.5" y2="1970.9" stroke-width="1.8" stroke="#000"/><circle cx="305" cy="1969.1" r="2.9" fill="#000"/><line x1="485.1" y1="1974.8" x2="485.1" y2="1980.6" stroke-width="1.8" stroke="#000"/><line x1="481.6" y1="1974.8" x2="488.6" y2="1974.8" stroke-width="1.8" stroke="#000"/><line x1="481.6" y1="1980.6" x2="488.6" y2="1980.6" stroke-width="1.8" stroke="#000"/><circle cx="485.1" cy="1977.7" r="2.9" fill="#000"/><rect x="126.2" y="1903.7" width="391.8" height="343.8" fill="none" stroke="#000" stroke-width="3.8"/><line x1="119.5" y1="2247.5" x2="126" y2="2247.5" stroke-width="2.6" stroke="#000"/><text x="120.8" y="2252.9" font-size="15.5" font-weight="bold" text-anchor="end">0.0</text><line x1="119.5" y1="2104.8" x2="126" y2="2104.8" stroke-width="2.6" stroke="#000"/><text x="120.8" y="2110.2" font-size="15.5" font-weight="bold" text-anchor="end">0.5</text><line x1="119.5" y1="1962" x2="126" y2="1962" stroke-width="2.6" stroke="#000"/><text x="120.8" y="1967.4" font-size="15.5" font-weight="bold" text-anchor="end">1.0</text><line x1="126.2" y1="2248" x2="126.2" y2="2254.5" stroke-width="3" stroke="#000"/><text x="126.2" y="2267.6" font-size="15.5" font-weight="bold" text-anchor="middle">0</text><line x1="256.7" y1="2248" x2="256.7" y2="2254.5" stroke-width="3" stroke="#000"/><text x="256.7" y="2267.6" font-size="15.5" font-weight="bold" text-anchor="middle">200</text><line x1="387.2" y1="2248" x2="387.2" y2="2254.5" stroke-width="3" stroke="#000"/><text x="387.2" y="2267.6" font-size="15.5" font-weight="bold" text-anchor="middle">400</text><line x1="517.7" y1="2248" x2="517.7" y2="2254.5" stroke-width="3" stroke="#000"/><text x="517.7" y="2267.6" font-size="15.5" font-weight="bold" text-anchor="middle">600</text><text x="322.3" y="2290" font-size="19" text-anchor="middle">[accessible lipid]</text><text transform="translate(78.5,2070.6) rotate(-90)" text-anchor="middle" font-size="19.5">Fraction bound</text><text x="323.7" y="1886.2" font-size="20" text-anchor="middle">Lipid binding affinity of drug-treated α-Syn</text><text x="59" y="1865" font-size="21.5">H</text><line x1="389.4" y1="2164.2" x2="408.5" y2="2164.2" stroke-width="3" stroke="#000" stroke-linecap="round"/><circle cx="398.9" cy="2164.2" r="2.5" fill="#000"/><text x="415.5" y="2168.3" font-size="11.5">DMSO</text><line x1="389.4" y1="2180.9" x2="408.5" y2="2180.9" stroke-width="3" stroke="#00c800" stroke-linecap="round"/><circle cx="398.9" cy="2180.9" r="3.8" fill="#00c800"/><text x="415.5" y="2185" font-size="11.5">NDGA</text><line x1="389.4" y1="2197.7" x2="408.5" y2="2197.7" stroke-width="3" stroke="#7d4e9e" stroke-linecap="round"/><rect x="394.4" y="2194.3" width="9" height="6.8" rx="1.5" fill="#7d4e9e"/><text x="415.5" y="2201.8" font-size="11.5">cNDGA</text><line x1="389.4" y1="2214.4" x2="408.5" y2="2214.4" stroke-width="3" stroke="#0a0ae6" stroke-linecap="round"/><path d="M398.9,2211 L402.1,2214.4 L398.9,2217.8 L395.7,2214.4Z" fill="#0a0ae6"/><text x="415.5" y="2218.5" font-size="11.5">mNDGA</text><rect x="714" y="1976.3" width="139.9" height="270.6" fill="#000"/><rect x="921.7" y="1982.1" width="138.6" height="264.8" fill="#808080" stroke="#9a9a9a" stroke-width="1.4"/><line x1="784" y1="1978.3" x2="784" y2="1958.9" stroke-width="1.8" stroke="#000"/><line x1="748.3" y1="1958.9" x2="819.2" y2="1958.9" stroke-width="1.8" stroke="#000"/><line x1="991.5" y1="1983.4" x2="991.5" y2="1963" stroke-width="1.8" stroke="#000"/><line x1="956.7" y1="1963" x2="1026.7" y2="1963" stroke-width="1.8" stroke="#000"/><rect x="681.2" y="1907.5" width="413.5" height="339.4" fill="none" stroke="#000" stroke-width="2.2"/><line x1="674.5" y1="2246.9" x2="681" y2="2246.9" stroke-width="1.8" stroke="#000"/><text x="672.6" y="2250.8" font-size="11" font-weight="bold" text-anchor="end">0.0</text><line x1="674.5" y1="2178.8" x2="681" y2="2178.8" stroke-width="1.8" stroke="#000"/><text x="672.6" y="2182.7" font-size="11" font-weight="bold" text-anchor="end">0.2</text><line x1="674.5" y1="2110.7" x2="681" y2="2110.7" stroke-width="1.8" stroke="#000"/><text x="672.6" y="2114.6" font-size="11" font-weight="bold" text-anchor="end">0.4</text><line x1="674.5" y1="2042.7" x2="681" y2="2042.7" stroke-width="1.8" stroke="#000"/><text x="672.6" y="2046.6" font-size="11" font-weight="bold" text-anchor="end">0.6</text><line x1="674.5" y1="1974.6" x2="681" y2="1974.6" stroke-width="1.8" stroke="#000"/><text x="672.6" y="1978.5" font-size="11" font-weight="bold" text-anchor="end">0.8</text><line x1="674.5" y1="1906.5" x2="681" y2="1906.5" stroke-width="1.8" stroke="#000"/><text x="672.6" y="1910.4" font-size="11" font-weight="bold" text-anchor="end">1.0</text><line x1="783.5" y1="2247" x2="783.5" y2="2253.5" stroke-width="2.2" stroke="#000"/><line x1="990.5" y1="2247" x2="990.5" y2="2253.5" stroke-width="2.2" stroke="#000"/><text x="784.4" y="2278.2" font-size="19.5" text-anchor="middle">10% Ethanol</text><text x="992.9" y="2278.2" font-size="19.5" text-anchor="middle">NDGA</text><text transform="translate(651.5,2077.5) rotate(-90)" text-anchor="middle" font-size="16.4" font-weight="bold">Fraction of aSyn bound</text><text x="645.5" y="1865" font-size="21.5">I</text>
</svg>
</body></html>
